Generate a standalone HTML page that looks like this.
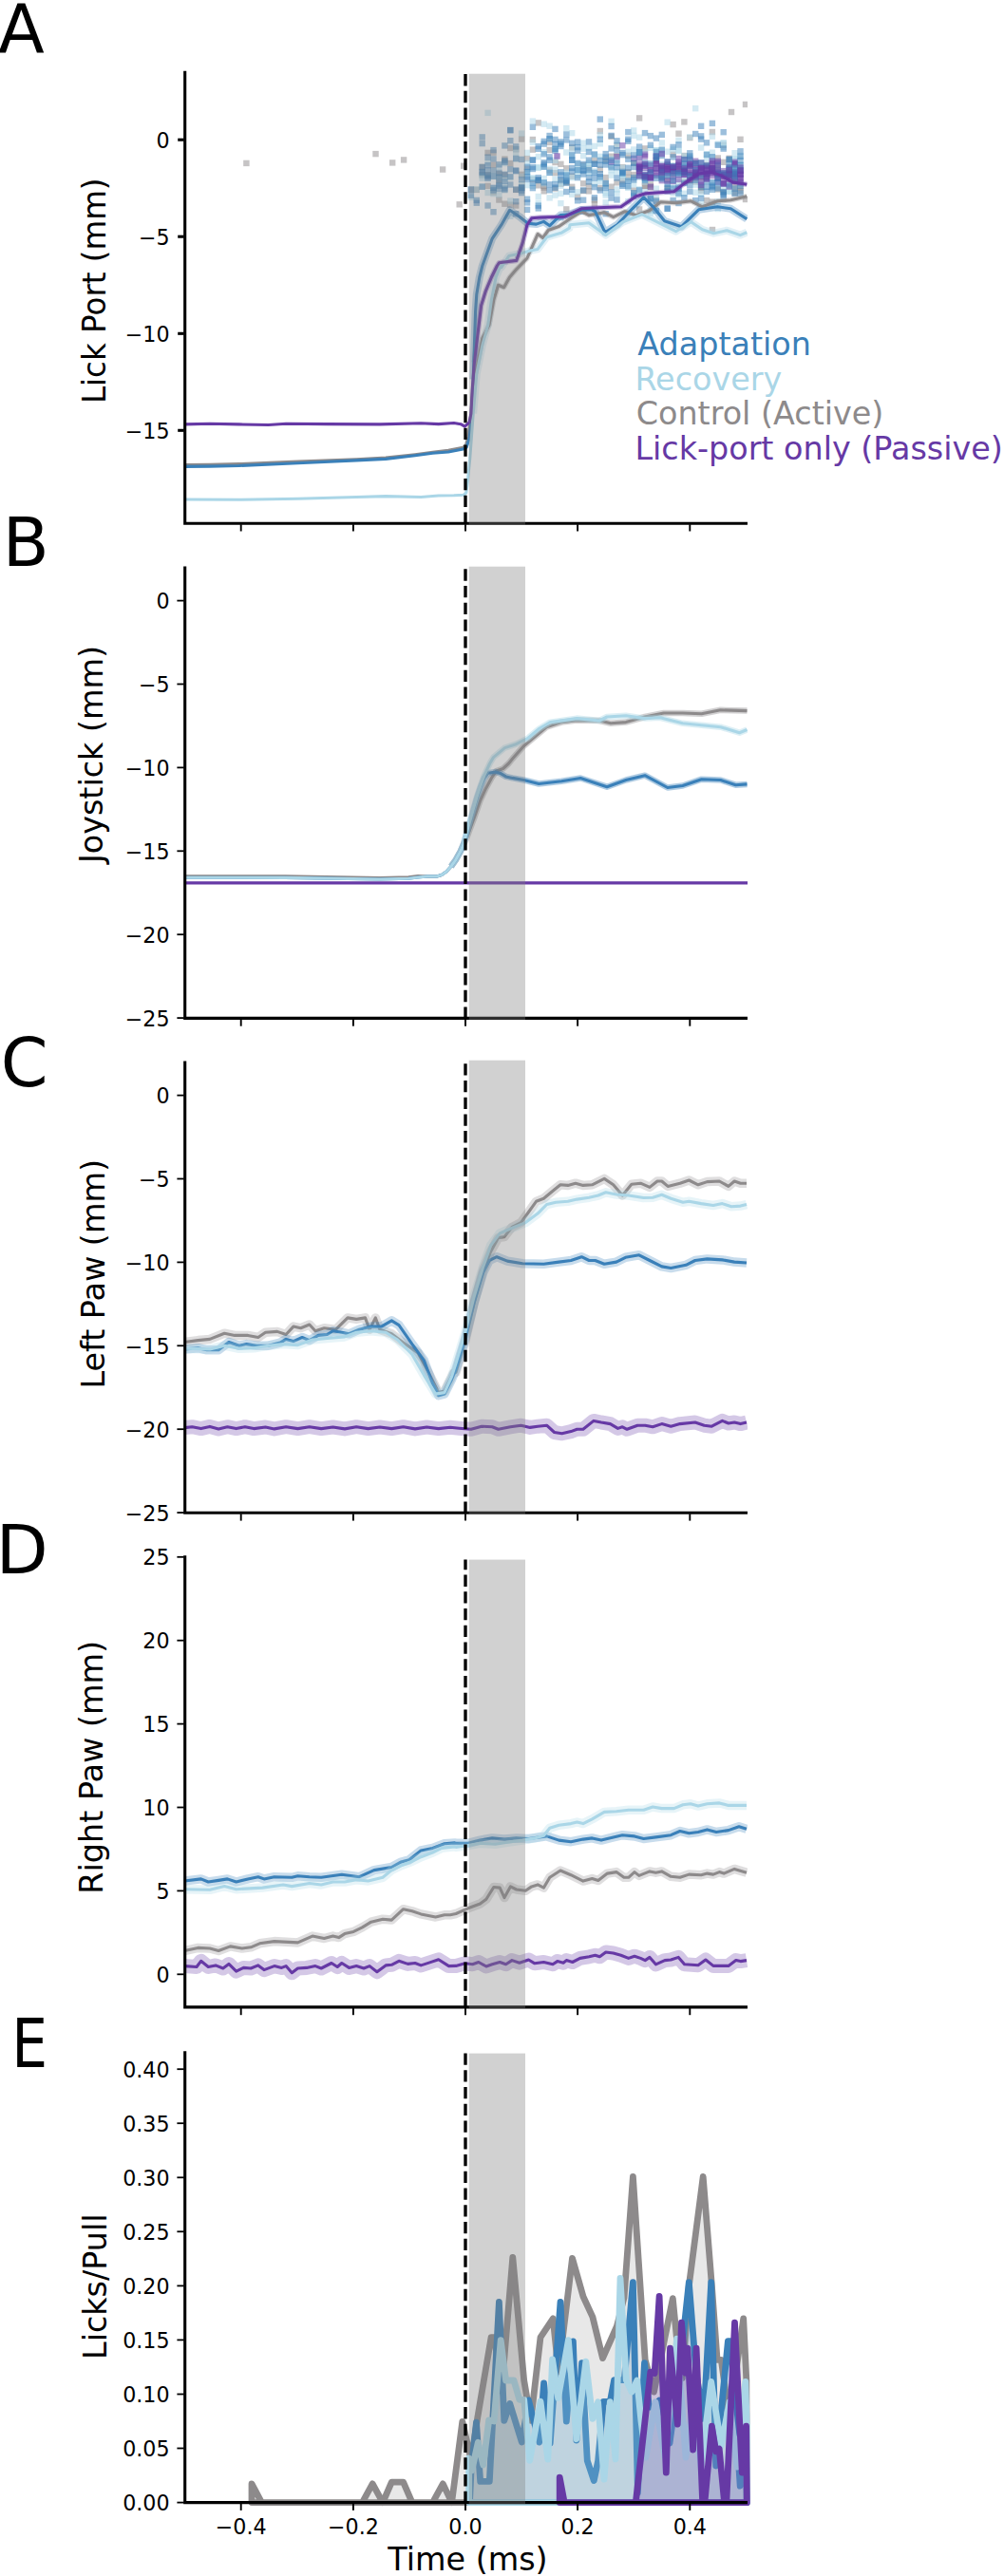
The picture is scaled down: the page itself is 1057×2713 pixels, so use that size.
<!DOCTYPE html>
<html lang="en"><head><meta charset="utf-8"><title>Figure</title>
<style>html,body{margin:0;padding:0;background:#fff}svg{display:block}</style></head>
<body>
<svg width="1057" height="2713" viewBox="0 0 1057 2713" font-family="'DejaVu Sans','Liberation Sans',sans-serif">
<rect width="1057" height="2713" fill="#fff"/>
<g id="panelA">
<clipPath id="clipA"><rect x="194.7" y="74.9" width="592.3" height="476.3"/></clipPath>
<g clip-path="url(#clipA)">
<rect x="256.2" y="168.7" width="6.4" height="6.4" fill="#8d8a8b" fill-opacity="0.50"/><rect x="392.3" y="158.9" width="6.4" height="6.4" fill="#8d8a8b" fill-opacity="0.50"/><rect x="410.0" y="168.2" width="6.4" height="6.4" fill="#8d8a8b" fill-opacity="0.50"/><rect x="421.9" y="165.2" width="6.4" height="6.4" fill="#8d8a8b" fill-opacity="0.50"/><rect x="462.9" y="175.3" width="6.4" height="6.4" fill="#8d8a8b" fill-opacity="0.50"/><rect x="480.5" y="212.1" width="6.4" height="6.4" fill="#8d8a8b" fill-opacity="0.50"/><rect x="485.0" y="171.5" width="6.4" height="6.4" fill="#8d8a8b" fill-opacity="0.50"/><rect x="492.7" y="196.7" width="6.4" height="6.4" fill="#8d8a8b" fill-opacity="0.50"/><rect x="498.6" y="196.7" width="6.4" height="6.4" fill="#8d8a8b" fill-opacity="0.50"/><rect x="504.5" y="172.7" width="6.4" height="6.4" fill="#8d8a8b" fill-opacity="0.50"/><rect x="504.5" y="180.8" width="6.4" height="6.4" fill="#8d8a8b" fill-opacity="0.50"/><rect x="510.4" y="192.7" width="6.4" height="6.4" fill="#8d8a8b" fill-opacity="0.50"/><rect x="510.4" y="181.0" width="6.4" height="6.4" fill="#8d8a8b" fill-opacity="0.50"/><rect x="510.4" y="157.7" width="6.4" height="6.4" fill="#8d8a8b" fill-opacity="0.50"/><rect x="516.3" y="157.5" width="6.4" height="6.4" fill="#8d8a8b" fill-opacity="0.50"/><rect x="516.3" y="170.5" width="6.4" height="6.4" fill="#8d8a8b" fill-opacity="0.50"/><rect x="516.3" y="199.3" width="6.4" height="6.4" fill="#8d8a8b" fill-opacity="0.50"/><rect x="522.2" y="186.7" width="6.4" height="6.4" fill="#8d8a8b" fill-opacity="0.50"/><rect x="522.2" y="180.0" width="6.4" height="6.4" fill="#8d8a8b" fill-opacity="0.50"/><rect x="522.2" y="207.3" width="6.4" height="6.4" fill="#8d8a8b" fill-opacity="0.50"/><rect x="528.2" y="181.2" width="6.4" height="6.4" fill="#8d8a8b" fill-opacity="0.50"/><rect x="528.2" y="211.5" width="6.4" height="6.4" fill="#8d8a8b" fill-opacity="0.50"/><rect x="528.2" y="164.4" width="6.4" height="6.4" fill="#8d8a8b" fill-opacity="0.50"/><rect x="534.1" y="212.5" width="6.4" height="6.4" fill="#8d8a8b" fill-opacity="0.50"/><rect x="534.1" y="168.8" width="6.4" height="6.4" fill="#8d8a8b" fill-opacity="0.50"/><rect x="534.1" y="152.8" width="6.4" height="6.4" fill="#8d8a8b" fill-opacity="0.50"/><rect x="540.0" y="213.3" width="6.4" height="6.4" fill="#8d8a8b" fill-opacity="0.50"/><rect x="540.0" y="154.0" width="6.4" height="6.4" fill="#8d8a8b" fill-opacity="0.50"/><rect x="540.0" y="196.7" width="6.4" height="6.4" fill="#8d8a8b" fill-opacity="0.50"/><rect x="545.9" y="180.6" width="6.4" height="6.4" fill="#8d8a8b" fill-opacity="0.50"/><rect x="545.9" y="143.3" width="6.4" height="6.4" fill="#8d8a8b" fill-opacity="0.50"/><rect x="551.8" y="163.8" width="6.4" height="6.4" fill="#8d8a8b" fill-opacity="0.50"/><rect x="551.8" y="174.4" width="6.4" height="6.4" fill="#8d8a8b" fill-opacity="0.50"/><rect x="557.7" y="185.8" width="6.4" height="6.4" fill="#8d8a8b" fill-opacity="0.50"/><rect x="557.7" y="154.4" width="6.4" height="6.4" fill="#8d8a8b" fill-opacity="0.50"/><rect x="557.7" y="143.8" width="6.4" height="6.4" fill="#8d8a8b" fill-opacity="0.50"/><rect x="563.6" y="192.1" width="6.4" height="6.4" fill="#8d8a8b" fill-opacity="0.50"/><rect x="563.6" y="126.2" width="6.4" height="6.4" fill="#8d8a8b" fill-opacity="0.50"/><rect x="563.6" y="186.6" width="6.4" height="6.4" fill="#8d8a8b" fill-opacity="0.50"/><rect x="569.5" y="194.4" width="6.4" height="6.4" fill="#8d8a8b" fill-opacity="0.50"/><rect x="569.5" y="192.6" width="6.4" height="6.4" fill="#8d8a8b" fill-opacity="0.50"/><rect x="569.5" y="198.1" width="6.4" height="6.4" fill="#8d8a8b" fill-opacity="0.50"/><rect x="575.4" y="146.8" width="6.4" height="6.4" fill="#8d8a8b" fill-opacity="0.50"/><rect x="575.4" y="176.2" width="6.4" height="6.4" fill="#8d8a8b" fill-opacity="0.50"/><rect x="575.4" y="154.7" width="6.4" height="6.4" fill="#8d8a8b" fill-opacity="0.50"/><rect x="581.3" y="178.9" width="6.4" height="6.4" fill="#8d8a8b" fill-opacity="0.50"/><rect x="581.3" y="167.8" width="6.4" height="6.4" fill="#8d8a8b" fill-opacity="0.50"/><rect x="581.3" y="195.3" width="6.4" height="6.4" fill="#8d8a8b" fill-opacity="0.50"/><rect x="587.2" y="190.5" width="6.4" height="6.4" fill="#8d8a8b" fill-opacity="0.50"/><rect x="587.2" y="169.6" width="6.4" height="6.4" fill="#8d8a8b" fill-opacity="0.50"/><rect x="587.2" y="187.6" width="6.4" height="6.4" fill="#8d8a8b" fill-opacity="0.50"/><rect x="593.1" y="174.1" width="6.4" height="6.4" fill="#8d8a8b" fill-opacity="0.50"/><rect x="593.1" y="188.8" width="6.4" height="6.4" fill="#8d8a8b" fill-opacity="0.50"/><rect x="593.1" y="217.2" width="6.4" height="6.4" fill="#8d8a8b" fill-opacity="0.50"/><rect x="599.0" y="152.2" width="6.4" height="6.4" fill="#8d8a8b" fill-opacity="0.50"/><rect x="599.0" y="193.6" width="6.4" height="6.4" fill="#8d8a8b" fill-opacity="0.50"/><rect x="599.0" y="182.5" width="6.4" height="6.4" fill="#8d8a8b" fill-opacity="0.50"/><rect x="604.9" y="204.3" width="6.4" height="6.4" fill="#8d8a8b" fill-opacity="0.50"/><rect x="610.9" y="190.1" width="6.4" height="6.4" fill="#8d8a8b" fill-opacity="0.50"/><rect x="610.9" y="197.8" width="6.4" height="6.4" fill="#8d8a8b" fill-opacity="0.50"/><rect x="610.9" y="170.9" width="6.4" height="6.4" fill="#8d8a8b" fill-opacity="0.50"/><rect x="616.8" y="198.1" width="6.4" height="6.4" fill="#8d8a8b" fill-opacity="0.50"/><rect x="616.8" y="193.0" width="6.4" height="6.4" fill="#8d8a8b" fill-opacity="0.50"/><rect x="616.8" y="174.0" width="6.4" height="6.4" fill="#8d8a8b" fill-opacity="0.50"/><rect x="622.7" y="211.9" width="6.4" height="6.4" fill="#8d8a8b" fill-opacity="0.50"/><rect x="622.7" y="207.3" width="6.4" height="6.4" fill="#8d8a8b" fill-opacity="0.50"/><rect x="622.7" y="165.7" width="6.4" height="6.4" fill="#8d8a8b" fill-opacity="0.50"/><rect x="628.6" y="194.8" width="6.4" height="6.4" fill="#8d8a8b" fill-opacity="0.50"/><rect x="628.6" y="175.4" width="6.4" height="6.4" fill="#8d8a8b" fill-opacity="0.50"/><rect x="628.6" y="134.8" width="6.4" height="6.4" fill="#8d8a8b" fill-opacity="0.50"/><rect x="634.5" y="190.3" width="6.4" height="6.4" fill="#8d8a8b" fill-opacity="0.50"/><rect x="634.5" y="183.8" width="6.4" height="6.4" fill="#8d8a8b" fill-opacity="0.50"/><rect x="634.5" y="165.1" width="6.4" height="6.4" fill="#8d8a8b" fill-opacity="0.50"/><rect x="640.4" y="193.5" width="6.4" height="6.4" fill="#8d8a8b" fill-opacity="0.50"/><rect x="640.4" y="140.6" width="6.4" height="6.4" fill="#8d8a8b" fill-opacity="0.50"/><rect x="640.4" y="161.5" width="6.4" height="6.4" fill="#8d8a8b" fill-opacity="0.50"/><rect x="646.3" y="150.2" width="6.4" height="6.4" fill="#8d8a8b" fill-opacity="0.50"/><rect x="646.3" y="161.1" width="6.4" height="6.4" fill="#8d8a8b" fill-opacity="0.50"/><rect x="646.3" y="189.1" width="6.4" height="6.4" fill="#8d8a8b" fill-opacity="0.50"/><rect x="652.2" y="172.9" width="6.4" height="6.4" fill="#8d8a8b" fill-opacity="0.50"/><rect x="652.2" y="186.9" width="6.4" height="6.4" fill="#8d8a8b" fill-opacity="0.50"/><rect x="658.1" y="160.6" width="6.4" height="6.4" fill="#8d8a8b" fill-opacity="0.50"/><rect x="658.1" y="178.1" width="6.4" height="6.4" fill="#8d8a8b" fill-opacity="0.50"/><rect x="658.1" y="183.7" width="6.4" height="6.4" fill="#8d8a8b" fill-opacity="0.50"/><rect x="664.0" y="180.8" width="6.4" height="6.4" fill="#8d8a8b" fill-opacity="0.50"/><rect x="664.0" y="168.6" width="6.4" height="6.4" fill="#8d8a8b" fill-opacity="0.50"/><rect x="664.0" y="197.4" width="6.4" height="6.4" fill="#8d8a8b" fill-opacity="0.50"/><rect x="669.9" y="217.3" width="6.4" height="6.4" fill="#8d8a8b" fill-opacity="0.50"/><rect x="669.9" y="121.2" width="6.4" height="6.4" fill="#8d8a8b" fill-opacity="0.50"/><rect x="669.9" y="179.0" width="6.4" height="6.4" fill="#8d8a8b" fill-opacity="0.50"/><rect x="675.8" y="192.8" width="6.4" height="6.4" fill="#8d8a8b" fill-opacity="0.50"/><rect x="675.8" y="192.6" width="6.4" height="6.4" fill="#8d8a8b" fill-opacity="0.50"/><rect x="675.8" y="153.2" width="6.4" height="6.4" fill="#8d8a8b" fill-opacity="0.50"/><rect x="681.7" y="194.1" width="6.4" height="6.4" fill="#8d8a8b" fill-opacity="0.50"/><rect x="681.7" y="191.1" width="6.4" height="6.4" fill="#8d8a8b" fill-opacity="0.50"/><rect x="687.7" y="165.2" width="6.4" height="6.4" fill="#8d8a8b" fill-opacity="0.50"/><rect x="687.7" y="207.5" width="6.4" height="6.4" fill="#8d8a8b" fill-opacity="0.50"/><rect x="693.6" y="173.6" width="6.4" height="6.4" fill="#8d8a8b" fill-opacity="0.50"/><rect x="693.6" y="183.5" width="6.4" height="6.4" fill="#8d8a8b" fill-opacity="0.50"/><rect x="693.6" y="173.5" width="6.4" height="6.4" fill="#8d8a8b" fill-opacity="0.50"/><rect x="699.5" y="170.9" width="6.4" height="6.4" fill="#8d8a8b" fill-opacity="0.50"/><rect x="699.5" y="195.4" width="6.4" height="6.4" fill="#8d8a8b" fill-opacity="0.50"/><rect x="699.5" y="185.6" width="6.4" height="6.4" fill="#8d8a8b" fill-opacity="0.50"/><rect x="705.4" y="159.5" width="6.4" height="6.4" fill="#8d8a8b" fill-opacity="0.50"/><rect x="705.4" y="127.9" width="6.4" height="6.4" fill="#8d8a8b" fill-opacity="0.50"/><rect x="705.4" y="180.0" width="6.4" height="6.4" fill="#8d8a8b" fill-opacity="0.50"/><rect x="711.3" y="137.5" width="6.4" height="6.4" fill="#8d8a8b" fill-opacity="0.50"/><rect x="711.3" y="176.9" width="6.4" height="6.4" fill="#8d8a8b" fill-opacity="0.50"/><rect x="717.2" y="125.2" width="6.4" height="6.4" fill="#8d8a8b" fill-opacity="0.50"/><rect x="717.2" y="188.2" width="6.4" height="6.4" fill="#8d8a8b" fill-opacity="0.50"/><rect x="717.2" y="160.8" width="6.4" height="6.4" fill="#8d8a8b" fill-opacity="0.50"/><rect x="723.1" y="141.9" width="6.4" height="6.4" fill="#8d8a8b" fill-opacity="0.50"/><rect x="723.1" y="186.9" width="6.4" height="6.4" fill="#8d8a8b" fill-opacity="0.50"/><rect x="723.1" y="186.2" width="6.4" height="6.4" fill="#8d8a8b" fill-opacity="0.50"/><rect x="729.0" y="168.7" width="6.4" height="6.4" fill="#8d8a8b" fill-opacity="0.50"/><rect x="729.0" y="188.3" width="6.4" height="6.4" fill="#8d8a8b" fill-opacity="0.50"/><rect x="729.0" y="181.2" width="6.4" height="6.4" fill="#8d8a8b" fill-opacity="0.50"/><rect x="734.9" y="197.5" width="6.4" height="6.4" fill="#8d8a8b" fill-opacity="0.50"/><rect x="734.9" y="184.2" width="6.4" height="6.4" fill="#8d8a8b" fill-opacity="0.50"/><rect x="734.9" y="194.1" width="6.4" height="6.4" fill="#8d8a8b" fill-opacity="0.50"/><rect x="740.8" y="179.8" width="6.4" height="6.4" fill="#8d8a8b" fill-opacity="0.50"/><rect x="740.8" y="207.8" width="6.4" height="6.4" fill="#8d8a8b" fill-opacity="0.50"/><rect x="740.8" y="170.8" width="6.4" height="6.4" fill="#8d8a8b" fill-opacity="0.50"/><rect x="746.7" y="174.4" width="6.4" height="6.4" fill="#8d8a8b" fill-opacity="0.50"/><rect x="746.7" y="209.4" width="6.4" height="6.4" fill="#8d8a8b" fill-opacity="0.50"/><rect x="746.7" y="135.8" width="6.4" height="6.4" fill="#8d8a8b" fill-opacity="0.50"/><rect x="752.6" y="196.2" width="6.4" height="6.4" fill="#8d8a8b" fill-opacity="0.50"/><rect x="752.6" y="172.9" width="6.4" height="6.4" fill="#8d8a8b" fill-opacity="0.50"/><rect x="752.6" y="163.3" width="6.4" height="6.4" fill="#8d8a8b" fill-opacity="0.50"/><rect x="758.5" y="149.6" width="6.4" height="6.4" fill="#8d8a8b" fill-opacity="0.50"/><rect x="758.5" y="198.7" width="6.4" height="6.4" fill="#8d8a8b" fill-opacity="0.50"/><rect x="758.5" y="167.6" width="6.4" height="6.4" fill="#8d8a8b" fill-opacity="0.50"/><rect x="764.5" y="174.3" width="6.4" height="6.4" fill="#8d8a8b" fill-opacity="0.50"/><rect x="764.5" y="181.3" width="6.4" height="6.4" fill="#8d8a8b" fill-opacity="0.50"/><rect x="764.5" y="163.6" width="6.4" height="6.4" fill="#8d8a8b" fill-opacity="0.50"/><rect x="770.4" y="187.2" width="6.4" height="6.4" fill="#8d8a8b" fill-opacity="0.50"/><rect x="770.4" y="199.8" width="6.4" height="6.4" fill="#8d8a8b" fill-opacity="0.50"/><rect x="770.4" y="193.8" width="6.4" height="6.4" fill="#8d8a8b" fill-opacity="0.50"/><rect x="776.3" y="194.4" width="6.4" height="6.4" fill="#8d8a8b" fill-opacity="0.50"/><rect x="776.3" y="143.6" width="6.4" height="6.4" fill="#8d8a8b" fill-opacity="0.50"/><rect x="776.3" y="198.0" width="6.4" height="6.4" fill="#8d8a8b" fill-opacity="0.50"/><rect x="492.7" y="204.7" width="6.4" height="6.4" fill="#aad6e7" fill-opacity="0.50"/><rect x="498.6" y="196.3" width="6.4" height="6.4" fill="#aad6e7" fill-opacity="0.50"/><rect x="504.5" y="181.9" width="6.4" height="6.4" fill="#aad6e7" fill-opacity="0.50"/><rect x="504.5" y="184.5" width="6.4" height="6.4" fill="#aad6e7" fill-opacity="0.50"/><rect x="504.5" y="193.3" width="6.4" height="6.4" fill="#aad6e7" fill-opacity="0.50"/><rect x="510.4" y="115.7" width="6.4" height="6.4" fill="#aad6e7" fill-opacity="0.50"/><rect x="510.4" y="168.2" width="6.4" height="6.4" fill="#aad6e7" fill-opacity="0.50"/><rect x="510.4" y="199.8" width="6.4" height="6.4" fill="#aad6e7" fill-opacity="0.50"/><rect x="516.3" y="200.9" width="6.4" height="6.4" fill="#aad6e7" fill-opacity="0.50"/><rect x="516.3" y="182.7" width="6.4" height="6.4" fill="#aad6e7" fill-opacity="0.50"/><rect x="516.3" y="195.0" width="6.4" height="6.4" fill="#aad6e7" fill-opacity="0.50"/><rect x="522.2" y="202.2" width="6.4" height="6.4" fill="#aad6e7" fill-opacity="0.50"/><rect x="522.2" y="172.7" width="6.4" height="6.4" fill="#aad6e7" fill-opacity="0.50"/><rect x="522.2" y="183.8" width="6.4" height="6.4" fill="#aad6e7" fill-opacity="0.50"/><rect x="528.2" y="168.8" width="6.4" height="6.4" fill="#aad6e7" fill-opacity="0.50"/><rect x="528.2" y="192.5" width="6.4" height="6.4" fill="#aad6e7" fill-opacity="0.50"/><rect x="528.2" y="185.1" width="6.4" height="6.4" fill="#aad6e7" fill-opacity="0.50"/><rect x="534.1" y="224.6" width="6.4" height="6.4" fill="#aad6e7" fill-opacity="0.50"/><rect x="534.1" y="184.0" width="6.4" height="6.4" fill="#aad6e7" fill-opacity="0.50"/><rect x="534.1" y="208.4" width="6.4" height="6.4" fill="#aad6e7" fill-opacity="0.50"/><rect x="540.0" y="158.1" width="6.4" height="6.4" fill="#aad6e7" fill-opacity="0.50"/><rect x="540.0" y="153.8" width="6.4" height="6.4" fill="#aad6e7" fill-opacity="0.50"/><rect x="540.0" y="164.5" width="6.4" height="6.4" fill="#aad6e7" fill-opacity="0.50"/><rect x="545.9" y="182.6" width="6.4" height="6.4" fill="#aad6e7" fill-opacity="0.50"/><rect x="545.9" y="191.0" width="6.4" height="6.4" fill="#aad6e7" fill-opacity="0.50"/><rect x="545.9" y="137.4" width="6.4" height="6.4" fill="#aad6e7" fill-opacity="0.50"/><rect x="551.8" y="191.9" width="6.4" height="6.4" fill="#aad6e7" fill-opacity="0.50"/><rect x="551.8" y="157.7" width="6.4" height="6.4" fill="#aad6e7" fill-opacity="0.50"/><rect x="551.8" y="177.5" width="6.4" height="6.4" fill="#aad6e7" fill-opacity="0.50"/><rect x="551.8" y="168.5" width="6.4" height="6.4" fill="#aad6e7" fill-opacity="0.50"/><rect x="551.8" y="179.3" width="6.4" height="6.4" fill="#aad6e7" fill-opacity="0.50"/><rect x="557.7" y="184.6" width="6.4" height="6.4" fill="#aad6e7" fill-opacity="0.50"/><rect x="557.7" y="124.4" width="6.4" height="6.4" fill="#aad6e7" fill-opacity="0.50"/><rect x="557.7" y="184.4" width="6.4" height="6.4" fill="#aad6e7" fill-opacity="0.50"/><rect x="557.7" y="192.6" width="6.4" height="6.4" fill="#aad6e7" fill-opacity="0.50"/><rect x="557.7" y="146.7" width="6.4" height="6.4" fill="#aad6e7" fill-opacity="0.50"/><rect x="563.6" y="210.6" width="6.4" height="6.4" fill="#aad6e7" fill-opacity="0.50"/><rect x="563.6" y="173.7" width="6.4" height="6.4" fill="#aad6e7" fill-opacity="0.50"/><rect x="563.6" y="161.9" width="6.4" height="6.4" fill="#aad6e7" fill-opacity="0.50"/><rect x="563.6" y="203.8" width="6.4" height="6.4" fill="#aad6e7" fill-opacity="0.50"/><rect x="563.6" y="172.9" width="6.4" height="6.4" fill="#aad6e7" fill-opacity="0.50"/><rect x="569.5" y="157.1" width="6.4" height="6.4" fill="#aad6e7" fill-opacity="0.50"/><rect x="569.5" y="127.5" width="6.4" height="6.4" fill="#aad6e7" fill-opacity="0.50"/><rect x="569.5" y="190.1" width="6.4" height="6.4" fill="#aad6e7" fill-opacity="0.50"/><rect x="569.5" y="184.8" width="6.4" height="6.4" fill="#aad6e7" fill-opacity="0.50"/><rect x="569.5" y="172.6" width="6.4" height="6.4" fill="#aad6e7" fill-opacity="0.50"/><rect x="575.4" y="174.6" width="6.4" height="6.4" fill="#aad6e7" fill-opacity="0.50"/><rect x="575.4" y="143.1" width="6.4" height="6.4" fill="#aad6e7" fill-opacity="0.50"/><rect x="575.4" y="178.7" width="6.4" height="6.4" fill="#aad6e7" fill-opacity="0.50"/><rect x="575.4" y="129.5" width="6.4" height="6.4" fill="#aad6e7" fill-opacity="0.50"/><rect x="575.4" y="205.2" width="6.4" height="6.4" fill="#aad6e7" fill-opacity="0.50"/><rect x="581.3" y="175.5" width="6.4" height="6.4" fill="#aad6e7" fill-opacity="0.50"/><rect x="581.3" y="165.6" width="6.4" height="6.4" fill="#aad6e7" fill-opacity="0.50"/><rect x="581.3" y="185.5" width="6.4" height="6.4" fill="#aad6e7" fill-opacity="0.50"/><rect x="581.3" y="202.4" width="6.4" height="6.4" fill="#aad6e7" fill-opacity="0.50"/><rect x="581.3" y="153.7" width="6.4" height="6.4" fill="#aad6e7" fill-opacity="0.50"/><rect x="587.2" y="188.9" width="6.4" height="6.4" fill="#aad6e7" fill-opacity="0.50"/><rect x="587.2" y="210.9" width="6.4" height="6.4" fill="#aad6e7" fill-opacity="0.50"/><rect x="587.2" y="200.6" width="6.4" height="6.4" fill="#aad6e7" fill-opacity="0.50"/><rect x="587.2" y="192.5" width="6.4" height="6.4" fill="#aad6e7" fill-opacity="0.50"/><rect x="593.1" y="183.3" width="6.4" height="6.4" fill="#aad6e7" fill-opacity="0.50"/><rect x="593.1" y="181.2" width="6.4" height="6.4" fill="#aad6e7" fill-opacity="0.50"/><rect x="593.1" y="178.6" width="6.4" height="6.4" fill="#aad6e7" fill-opacity="0.50"/><rect x="593.1" y="157.3" width="6.4" height="6.4" fill="#aad6e7" fill-opacity="0.50"/><rect x="593.1" y="131.9" width="6.4" height="6.4" fill="#aad6e7" fill-opacity="0.50"/><rect x="599.0" y="160.8" width="6.4" height="6.4" fill="#aad6e7" fill-opacity="0.50"/><rect x="599.0" y="183.9" width="6.4" height="6.4" fill="#aad6e7" fill-opacity="0.50"/><rect x="599.0" y="137.0" width="6.4" height="6.4" fill="#aad6e7" fill-opacity="0.50"/><rect x="599.0" y="201.5" width="6.4" height="6.4" fill="#aad6e7" fill-opacity="0.50"/><rect x="599.0" y="153.6" width="6.4" height="6.4" fill="#aad6e7" fill-opacity="0.50"/><rect x="604.9" y="181.5" width="6.4" height="6.4" fill="#aad6e7" fill-opacity="0.50"/><rect x="604.9" y="176.2" width="6.4" height="6.4" fill="#aad6e7" fill-opacity="0.50"/><rect x="604.9" y="175.9" width="6.4" height="6.4" fill="#aad6e7" fill-opacity="0.50"/><rect x="604.9" y="199.1" width="6.4" height="6.4" fill="#aad6e7" fill-opacity="0.50"/><rect x="604.9" y="169.7" width="6.4" height="6.4" fill="#aad6e7" fill-opacity="0.50"/><rect x="610.9" y="171.9" width="6.4" height="6.4" fill="#aad6e7" fill-opacity="0.50"/><rect x="610.9" y="147.5" width="6.4" height="6.4" fill="#aad6e7" fill-opacity="0.50"/><rect x="610.9" y="171.8" width="6.4" height="6.4" fill="#aad6e7" fill-opacity="0.50"/><rect x="610.9" y="161.0" width="6.4" height="6.4" fill="#aad6e7" fill-opacity="0.50"/><rect x="610.9" y="153.5" width="6.4" height="6.4" fill="#aad6e7" fill-opacity="0.50"/><rect x="616.8" y="172.6" width="6.4" height="6.4" fill="#aad6e7" fill-opacity="0.50"/><rect x="616.8" y="152.4" width="6.4" height="6.4" fill="#aad6e7" fill-opacity="0.50"/><rect x="616.8" y="168.1" width="6.4" height="6.4" fill="#aad6e7" fill-opacity="0.50"/><rect x="616.8" y="170.2" width="6.4" height="6.4" fill="#aad6e7" fill-opacity="0.50"/><rect x="616.8" y="178.9" width="6.4" height="6.4" fill="#aad6e7" fill-opacity="0.50"/><rect x="622.7" y="190.3" width="6.4" height="6.4" fill="#aad6e7" fill-opacity="0.50"/><rect x="622.7" y="150.7" width="6.4" height="6.4" fill="#aad6e7" fill-opacity="0.50"/><rect x="622.7" y="159.8" width="6.4" height="6.4" fill="#aad6e7" fill-opacity="0.50"/><rect x="622.7" y="177.2" width="6.4" height="6.4" fill="#aad6e7" fill-opacity="0.50"/><rect x="628.6" y="188.0" width="6.4" height="6.4" fill="#aad6e7" fill-opacity="0.50"/><rect x="628.6" y="148.1" width="6.4" height="6.4" fill="#aad6e7" fill-opacity="0.50"/><rect x="628.6" y="161.7" width="6.4" height="6.4" fill="#aad6e7" fill-opacity="0.50"/><rect x="628.6" y="184.6" width="6.4" height="6.4" fill="#aad6e7" fill-opacity="0.50"/><rect x="628.6" y="139.1" width="6.4" height="6.4" fill="#aad6e7" fill-opacity="0.50"/><rect x="634.5" y="210.1" width="6.4" height="6.4" fill="#aad6e7" fill-opacity="0.50"/><rect x="634.5" y="189.7" width="6.4" height="6.4" fill="#aad6e7" fill-opacity="0.50"/><rect x="634.5" y="193.0" width="6.4" height="6.4" fill="#aad6e7" fill-opacity="0.50"/><rect x="634.5" y="202.4" width="6.4" height="6.4" fill="#aad6e7" fill-opacity="0.50"/><rect x="634.5" y="200.1" width="6.4" height="6.4" fill="#aad6e7" fill-opacity="0.50"/><rect x="640.4" y="164.1" width="6.4" height="6.4" fill="#aad6e7" fill-opacity="0.50"/><rect x="640.4" y="171.5" width="6.4" height="6.4" fill="#aad6e7" fill-opacity="0.50"/><rect x="640.4" y="175.9" width="6.4" height="6.4" fill="#aad6e7" fill-opacity="0.50"/><rect x="640.4" y="181.4" width="6.4" height="6.4" fill="#aad6e7" fill-opacity="0.50"/><rect x="640.4" y="124.6" width="6.4" height="6.4" fill="#aad6e7" fill-opacity="0.50"/><rect x="646.3" y="149.5" width="6.4" height="6.4" fill="#aad6e7" fill-opacity="0.50"/><rect x="646.3" y="177.9" width="6.4" height="6.4" fill="#aad6e7" fill-opacity="0.50"/><rect x="646.3" y="196.3" width="6.4" height="6.4" fill="#aad6e7" fill-opacity="0.50"/><rect x="646.3" y="165.3" width="6.4" height="6.4" fill="#aad6e7" fill-opacity="0.50"/><rect x="646.3" y="200.9" width="6.4" height="6.4" fill="#aad6e7" fill-opacity="0.50"/><rect x="652.2" y="180.2" width="6.4" height="6.4" fill="#aad6e7" fill-opacity="0.50"/><rect x="652.2" y="183.9" width="6.4" height="6.4" fill="#aad6e7" fill-opacity="0.50"/><rect x="652.2" y="181.8" width="6.4" height="6.4" fill="#aad6e7" fill-opacity="0.50"/><rect x="652.2" y="173.6" width="6.4" height="6.4" fill="#aad6e7" fill-opacity="0.50"/><rect x="652.2" y="180.1" width="6.4" height="6.4" fill="#aad6e7" fill-opacity="0.50"/><rect x="658.1" y="156.6" width="6.4" height="6.4" fill="#aad6e7" fill-opacity="0.50"/><rect x="658.1" y="194.6" width="6.4" height="6.4" fill="#aad6e7" fill-opacity="0.50"/><rect x="658.1" y="208.9" width="6.4" height="6.4" fill="#aad6e7" fill-opacity="0.50"/><rect x="658.1" y="186.9" width="6.4" height="6.4" fill="#aad6e7" fill-opacity="0.50"/><rect x="664.0" y="191.2" width="6.4" height="6.4" fill="#aad6e7" fill-opacity="0.50"/><rect x="664.0" y="139.7" width="6.4" height="6.4" fill="#aad6e7" fill-opacity="0.50"/><rect x="664.0" y="154.3" width="6.4" height="6.4" fill="#aad6e7" fill-opacity="0.50"/><rect x="664.0" y="134.3" width="6.4" height="6.4" fill="#aad6e7" fill-opacity="0.50"/><rect x="664.0" y="201.2" width="6.4" height="6.4" fill="#aad6e7" fill-opacity="0.50"/><rect x="669.9" y="141.5" width="6.4" height="6.4" fill="#aad6e7" fill-opacity="0.50"/><rect x="669.9" y="181.4" width="6.4" height="6.4" fill="#aad6e7" fill-opacity="0.50"/><rect x="669.9" y="162.5" width="6.4" height="6.4" fill="#aad6e7" fill-opacity="0.50"/><rect x="669.9" y="157.3" width="6.4" height="6.4" fill="#aad6e7" fill-opacity="0.50"/><rect x="669.9" y="196.1" width="6.4" height="6.4" fill="#aad6e7" fill-opacity="0.50"/><rect x="675.8" y="188.5" width="6.4" height="6.4" fill="#aad6e7" fill-opacity="0.50"/><rect x="675.8" y="186.2" width="6.4" height="6.4" fill="#aad6e7" fill-opacity="0.50"/><rect x="675.8" y="157.2" width="6.4" height="6.4" fill="#aad6e7" fill-opacity="0.50"/><rect x="675.8" y="199.0" width="6.4" height="6.4" fill="#aad6e7" fill-opacity="0.50"/><rect x="675.8" y="179.0" width="6.4" height="6.4" fill="#aad6e7" fill-opacity="0.50"/><rect x="681.7" y="185.0" width="6.4" height="6.4" fill="#aad6e7" fill-opacity="0.50"/><rect x="681.7" y="152.6" width="6.4" height="6.4" fill="#aad6e7" fill-opacity="0.50"/><rect x="681.7" y="221.3" width="6.4" height="6.4" fill="#aad6e7" fill-opacity="0.50"/><rect x="681.7" y="219.0" width="6.4" height="6.4" fill="#aad6e7" fill-opacity="0.50"/><rect x="681.7" y="218.5" width="6.4" height="6.4" fill="#aad6e7" fill-opacity="0.50"/><rect x="687.7" y="155.1" width="6.4" height="6.4" fill="#aad6e7" fill-opacity="0.50"/><rect x="687.7" y="155.2" width="6.4" height="6.4" fill="#aad6e7" fill-opacity="0.50"/><rect x="687.7" y="195.5" width="6.4" height="6.4" fill="#aad6e7" fill-opacity="0.50"/><rect x="687.7" y="174.4" width="6.4" height="6.4" fill="#aad6e7" fill-opacity="0.50"/><rect x="687.7" y="205.2" width="6.4" height="6.4" fill="#aad6e7" fill-opacity="0.50"/><rect x="693.6" y="147.3" width="6.4" height="6.4" fill="#aad6e7" fill-opacity="0.50"/><rect x="693.6" y="169.8" width="6.4" height="6.4" fill="#aad6e7" fill-opacity="0.50"/><rect x="693.6" y="172.2" width="6.4" height="6.4" fill="#aad6e7" fill-opacity="0.50"/><rect x="693.6" y="154.7" width="6.4" height="6.4" fill="#aad6e7" fill-opacity="0.50"/><rect x="693.6" y="176.4" width="6.4" height="6.4" fill="#aad6e7" fill-opacity="0.50"/><rect x="699.5" y="156.5" width="6.4" height="6.4" fill="#aad6e7" fill-opacity="0.50"/><rect x="699.5" y="182.1" width="6.4" height="6.4" fill="#aad6e7" fill-opacity="0.50"/><rect x="699.5" y="178.4" width="6.4" height="6.4" fill="#aad6e7" fill-opacity="0.50"/><rect x="699.5" y="125.5" width="6.4" height="6.4" fill="#aad6e7" fill-opacity="0.50"/><rect x="699.5" y="177.3" width="6.4" height="6.4" fill="#aad6e7" fill-opacity="0.50"/><rect x="705.4" y="195.4" width="6.4" height="6.4" fill="#aad6e7" fill-opacity="0.50"/><rect x="705.4" y="183.6" width="6.4" height="6.4" fill="#aad6e7" fill-opacity="0.50"/><rect x="705.4" y="191.4" width="6.4" height="6.4" fill="#aad6e7" fill-opacity="0.50"/><rect x="705.4" y="154.2" width="6.4" height="6.4" fill="#aad6e7" fill-opacity="0.50"/><rect x="705.4" y="200.1" width="6.4" height="6.4" fill="#aad6e7" fill-opacity="0.50"/><rect x="711.3" y="155.1" width="6.4" height="6.4" fill="#aad6e7" fill-opacity="0.50"/><rect x="711.3" y="188.8" width="6.4" height="6.4" fill="#aad6e7" fill-opacity="0.50"/><rect x="711.3" y="202.2" width="6.4" height="6.4" fill="#aad6e7" fill-opacity="0.50"/><rect x="711.3" y="155.8" width="6.4" height="6.4" fill="#aad6e7" fill-opacity="0.50"/><rect x="711.3" y="144.6" width="6.4" height="6.4" fill="#aad6e7" fill-opacity="0.50"/><rect x="717.2" y="183.0" width="6.4" height="6.4" fill="#aad6e7" fill-opacity="0.50"/><rect x="717.2" y="200.6" width="6.4" height="6.4" fill="#aad6e7" fill-opacity="0.50"/><rect x="717.2" y="161.1" width="6.4" height="6.4" fill="#aad6e7" fill-opacity="0.50"/><rect x="717.2" y="177.7" width="6.4" height="6.4" fill="#aad6e7" fill-opacity="0.50"/><rect x="717.2" y="189.1" width="6.4" height="6.4" fill="#aad6e7" fill-opacity="0.50"/><rect x="723.1" y="169.1" width="6.4" height="6.4" fill="#aad6e7" fill-opacity="0.50"/><rect x="723.1" y="169.0" width="6.4" height="6.4" fill="#aad6e7" fill-opacity="0.50"/><rect x="723.1" y="180.8" width="6.4" height="6.4" fill="#aad6e7" fill-opacity="0.50"/><rect x="723.1" y="179.8" width="6.4" height="6.4" fill="#aad6e7" fill-opacity="0.50"/><rect x="723.1" y="141.1" width="6.4" height="6.4" fill="#aad6e7" fill-opacity="0.50"/><rect x="729.0" y="191.4" width="6.4" height="6.4" fill="#aad6e7" fill-opacity="0.50"/><rect x="729.0" y="111.0" width="6.4" height="6.4" fill="#aad6e7" fill-opacity="0.50"/><rect x="729.0" y="199.5" width="6.4" height="6.4" fill="#aad6e7" fill-opacity="0.50"/><rect x="729.0" y="170.5" width="6.4" height="6.4" fill="#aad6e7" fill-opacity="0.50"/><rect x="729.0" y="182.5" width="6.4" height="6.4" fill="#aad6e7" fill-opacity="0.50"/><rect x="734.9" y="200.8" width="6.4" height="6.4" fill="#aad6e7" fill-opacity="0.50"/><rect x="734.9" y="152.3" width="6.4" height="6.4" fill="#aad6e7" fill-opacity="0.50"/><rect x="734.9" y="189.5" width="6.4" height="6.4" fill="#aad6e7" fill-opacity="0.50"/><rect x="734.9" y="174.5" width="6.4" height="6.4" fill="#aad6e7" fill-opacity="0.50"/><rect x="734.9" y="212.1" width="6.4" height="6.4" fill="#aad6e7" fill-opacity="0.50"/><rect x="740.8" y="181.6" width="6.4" height="6.4" fill="#aad6e7" fill-opacity="0.50"/><rect x="740.8" y="159.0" width="6.4" height="6.4" fill="#aad6e7" fill-opacity="0.50"/><rect x="740.8" y="177.1" width="6.4" height="6.4" fill="#aad6e7" fill-opacity="0.50"/><rect x="740.8" y="163.7" width="6.4" height="6.4" fill="#aad6e7" fill-opacity="0.50"/><rect x="740.8" y="178.9" width="6.4" height="6.4" fill="#aad6e7" fill-opacity="0.50"/><rect x="746.7" y="140.5" width="6.4" height="6.4" fill="#aad6e7" fill-opacity="0.50"/><rect x="746.7" y="212.2" width="6.4" height="6.4" fill="#aad6e7" fill-opacity="0.50"/><rect x="746.7" y="163.4" width="6.4" height="6.4" fill="#aad6e7" fill-opacity="0.50"/><rect x="746.7" y="157.5" width="6.4" height="6.4" fill="#aad6e7" fill-opacity="0.50"/><rect x="746.7" y="188.9" width="6.4" height="6.4" fill="#aad6e7" fill-opacity="0.50"/><rect x="752.6" y="209.0" width="6.4" height="6.4" fill="#aad6e7" fill-opacity="0.50"/><rect x="752.6" y="216.8" width="6.4" height="6.4" fill="#aad6e7" fill-opacity="0.50"/><rect x="752.6" y="167.6" width="6.4" height="6.4" fill="#aad6e7" fill-opacity="0.50"/><rect x="752.6" y="148.5" width="6.4" height="6.4" fill="#aad6e7" fill-opacity="0.50"/><rect x="752.6" y="178.5" width="6.4" height="6.4" fill="#aad6e7" fill-opacity="0.50"/><rect x="758.5" y="194.4" width="6.4" height="6.4" fill="#aad6e7" fill-opacity="0.50"/><rect x="758.5" y="190.3" width="6.4" height="6.4" fill="#aad6e7" fill-opacity="0.50"/><rect x="758.5" y="151.7" width="6.4" height="6.4" fill="#aad6e7" fill-opacity="0.50"/><rect x="758.5" y="147.1" width="6.4" height="6.4" fill="#aad6e7" fill-opacity="0.50"/><rect x="758.5" y="147.8" width="6.4" height="6.4" fill="#aad6e7" fill-opacity="0.50"/><rect x="764.5" y="190.3" width="6.4" height="6.4" fill="#aad6e7" fill-opacity="0.50"/><rect x="764.5" y="172.2" width="6.4" height="6.4" fill="#aad6e7" fill-opacity="0.50"/><rect x="764.5" y="198.2" width="6.4" height="6.4" fill="#aad6e7" fill-opacity="0.50"/><rect x="764.5" y="198.5" width="6.4" height="6.4" fill="#aad6e7" fill-opacity="0.50"/><rect x="764.5" y="174.2" width="6.4" height="6.4" fill="#aad6e7" fill-opacity="0.50"/><rect x="770.4" y="158.0" width="6.4" height="6.4" fill="#aad6e7" fill-opacity="0.50"/><rect x="770.4" y="170.8" width="6.4" height="6.4" fill="#aad6e7" fill-opacity="0.50"/><rect x="770.4" y="181.4" width="6.4" height="6.4" fill="#aad6e7" fill-opacity="0.50"/><rect x="770.4" y="164.1" width="6.4" height="6.4" fill="#aad6e7" fill-opacity="0.50"/><rect x="770.4" y="164.4" width="6.4" height="6.4" fill="#aad6e7" fill-opacity="0.50"/><rect x="776.3" y="170.0" width="6.4" height="6.4" fill="#aad6e7" fill-opacity="0.50"/><rect x="776.3" y="180.8" width="6.4" height="6.4" fill="#aad6e7" fill-opacity="0.50"/><rect x="776.3" y="174.2" width="6.4" height="6.4" fill="#aad6e7" fill-opacity="0.50"/><rect x="776.3" y="160.7" width="6.4" height="6.4" fill="#aad6e7" fill-opacity="0.50"/><rect x="776.3" y="190.4" width="6.4" height="6.4" fill="#aad6e7" fill-opacity="0.50"/><rect x="687.7" y="161.4" width="6.4" height="6.4" fill="#6639a5" fill-opacity="0.50"/><rect x="675.8" y="181.1" width="6.4" height="6.4" fill="#6639a5" fill-opacity="0.50"/><rect x="764.5" y="182.4" width="6.4" height="6.4" fill="#6639a5" fill-opacity="0.50"/><rect x="752.6" y="188.5" width="6.4" height="6.4" fill="#6639a5" fill-opacity="0.50"/><rect x="711.3" y="170.3" width="6.4" height="6.4" fill="#6639a5" fill-opacity="0.50"/><rect x="705.4" y="173.7" width="6.4" height="6.4" fill="#6639a5" fill-opacity="0.50"/><rect x="699.5" y="172.2" width="6.4" height="6.4" fill="#6639a5" fill-opacity="0.50"/><rect x="693.6" y="180.8" width="6.4" height="6.4" fill="#6639a5" fill-opacity="0.50"/><rect x="699.5" y="172.5" width="6.4" height="6.4" fill="#6639a5" fill-opacity="0.50"/><rect x="758.5" y="190.5" width="6.4" height="6.4" fill="#6639a5" fill-opacity="0.50"/><rect x="752.6" y="180.8" width="6.4" height="6.4" fill="#6639a5" fill-opacity="0.50"/><rect x="723.1" y="178.9" width="6.4" height="6.4" fill="#6639a5" fill-opacity="0.50"/><rect x="758.5" y="190.0" width="6.4" height="6.4" fill="#6639a5" fill-opacity="0.50"/><rect x="711.3" y="170.3" width="6.4" height="6.4" fill="#6639a5" fill-opacity="0.50"/><rect x="687.7" y="166.8" width="6.4" height="6.4" fill="#6639a5" fill-opacity="0.50"/><rect x="758.5" y="179.3" width="6.4" height="6.4" fill="#6639a5" fill-opacity="0.50"/><rect x="664.0" y="163.7" width="6.4" height="6.4" fill="#6639a5" fill-opacity="0.50"/><rect x="717.2" y="176.6" width="6.4" height="6.4" fill="#6639a5" fill-opacity="0.50"/><rect x="723.1" y="172.5" width="6.4" height="6.4" fill="#6639a5" fill-opacity="0.50"/><rect x="699.5" y="179.1" width="6.4" height="6.4" fill="#6639a5" fill-opacity="0.50"/><rect x="723.1" y="165.0" width="6.4" height="6.4" fill="#6639a5" fill-opacity="0.50"/><rect x="711.3" y="163.8" width="6.4" height="6.4" fill="#6639a5" fill-opacity="0.50"/><rect x="717.2" y="165.1" width="6.4" height="6.4" fill="#6639a5" fill-opacity="0.50"/><rect x="770.4" y="167.5" width="6.4" height="6.4" fill="#6639a5" fill-opacity="0.50"/><rect x="764.5" y="179.6" width="6.4" height="6.4" fill="#6639a5" fill-opacity="0.50"/><rect x="723.1" y="169.4" width="6.4" height="6.4" fill="#6639a5" fill-opacity="0.50"/><rect x="681.7" y="193.5" width="6.4" height="6.4" fill="#6639a5" fill-opacity="0.50"/><rect x="758.5" y="182.9" width="6.4" height="6.4" fill="#6639a5" fill-opacity="0.50"/><rect x="734.9" y="168.4" width="6.4" height="6.4" fill="#6639a5" fill-opacity="0.50"/><rect x="711.3" y="171.6" width="6.4" height="6.4" fill="#6639a5" fill-opacity="0.50"/><rect x="729.0" y="183.8" width="6.4" height="6.4" fill="#6639a5" fill-opacity="0.50"/><rect x="770.4" y="181.1" width="6.4" height="6.4" fill="#6639a5" fill-opacity="0.50"/><rect x="693.6" y="175.6" width="6.4" height="6.4" fill="#6639a5" fill-opacity="0.50"/><rect x="675.8" y="161.5" width="6.4" height="6.4" fill="#6639a5" fill-opacity="0.50"/><rect x="640.4" y="167.6" width="6.4" height="6.4" fill="#6639a5" fill-opacity="0.50"/><rect x="770.4" y="187.6" width="6.4" height="6.4" fill="#6639a5" fill-opacity="0.50"/><rect x="776.3" y="185.5" width="6.4" height="6.4" fill="#6639a5" fill-opacity="0.50"/><rect x="758.5" y="182.7" width="6.4" height="6.4" fill="#6639a5" fill-opacity="0.50"/><rect x="705.4" y="181.9" width="6.4" height="6.4" fill="#6639a5" fill-opacity="0.50"/><rect x="675.8" y="171.6" width="6.4" height="6.4" fill="#6639a5" fill-opacity="0.50"/><rect x="752.6" y="184.0" width="6.4" height="6.4" fill="#6639a5" fill-opacity="0.50"/><rect x="687.7" y="161.3" width="6.4" height="6.4" fill="#6639a5" fill-opacity="0.50"/><rect x="746.7" y="169.3" width="6.4" height="6.4" fill="#6639a5" fill-opacity="0.50"/><rect x="746.7" y="181.9" width="6.4" height="6.4" fill="#6639a5" fill-opacity="0.50"/><rect x="776.3" y="176.7" width="6.4" height="6.4" fill="#6639a5" fill-opacity="0.50"/><rect x="723.1" y="178.3" width="6.4" height="6.4" fill="#6639a5" fill-opacity="0.50"/><rect x="758.5" y="180.9" width="6.4" height="6.4" fill="#6639a5" fill-opacity="0.50"/><rect x="770.4" y="177.9" width="6.4" height="6.4" fill="#6639a5" fill-opacity="0.50"/><rect x="776.3" y="188.3" width="6.4" height="6.4" fill="#6639a5" fill-opacity="0.50"/><rect x="723.1" y="181.1" width="6.4" height="6.4" fill="#6639a5" fill-opacity="0.50"/><rect x="729.0" y="169.2" width="6.4" height="6.4" fill="#6639a5" fill-opacity="0.50"/><rect x="758.5" y="176.9" width="6.4" height="6.4" fill="#6639a5" fill-opacity="0.50"/><rect x="687.7" y="181.5" width="6.4" height="6.4" fill="#6639a5" fill-opacity="0.50"/><rect x="770.4" y="183.1" width="6.4" height="6.4" fill="#6639a5" fill-opacity="0.50"/><rect x="723.1" y="186.3" width="6.4" height="6.4" fill="#6639a5" fill-opacity="0.50"/><rect x="770.4" y="179.8" width="6.4" height="6.4" fill="#6639a5" fill-opacity="0.50"/><rect x="729.0" y="173.5" width="6.4" height="6.4" fill="#6639a5" fill-opacity="0.50"/><rect x="699.5" y="169.9" width="6.4" height="6.4" fill="#6639a5" fill-opacity="0.50"/><rect x="770.4" y="180.0" width="6.4" height="6.4" fill="#6639a5" fill-opacity="0.50"/><rect x="699.5" y="167.6" width="6.4" height="6.4" fill="#6639a5" fill-opacity="0.50"/><rect x="729.0" y="175.5" width="6.4" height="6.4" fill="#6639a5" fill-opacity="0.50"/><rect x="740.8" y="172.7" width="6.4" height="6.4" fill="#6639a5" fill-opacity="0.50"/><rect x="764.5" y="182.0" width="6.4" height="6.4" fill="#6639a5" fill-opacity="0.50"/><rect x="746.7" y="168.6" width="6.4" height="6.4" fill="#6639a5" fill-opacity="0.50"/><rect x="669.9" y="178.2" width="6.4" height="6.4" fill="#6639a5" fill-opacity="0.50"/><rect x="681.7" y="184.0" width="6.4" height="6.4" fill="#6639a5" fill-opacity="0.50"/><rect x="764.5" y="178.7" width="6.4" height="6.4" fill="#6639a5" fill-opacity="0.50"/><rect x="746.7" y="174.6" width="6.4" height="6.4" fill="#6639a5" fill-opacity="0.50"/><rect x="740.8" y="171.6" width="6.4" height="6.4" fill="#6639a5" fill-opacity="0.50"/><rect x="669.9" y="163.3" width="6.4" height="6.4" fill="#6639a5" fill-opacity="0.50"/><rect x="705.4" y="176.4" width="6.4" height="6.4" fill="#6639a5" fill-opacity="0.50"/><rect x="717.2" y="173.7" width="6.4" height="6.4" fill="#6639a5" fill-opacity="0.50"/><rect x="717.2" y="180.6" width="6.4" height="6.4" fill="#6639a5" fill-opacity="0.50"/><rect x="717.2" y="176.6" width="6.4" height="6.4" fill="#6639a5" fill-opacity="0.50"/><rect x="770.4" y="169.1" width="6.4" height="6.4" fill="#6639a5" fill-opacity="0.50"/><rect x="711.3" y="176.6" width="6.4" height="6.4" fill="#6639a5" fill-opacity="0.50"/><rect x="752.6" y="166.6" width="6.4" height="6.4" fill="#6639a5" fill-opacity="0.50"/><rect x="669.9" y="171.6" width="6.4" height="6.4" fill="#6639a5" fill-opacity="0.50"/><rect x="681.7" y="171.0" width="6.4" height="6.4" fill="#6639a5" fill-opacity="0.50"/><rect x="687.7" y="169.1" width="6.4" height="6.4" fill="#6639a5" fill-opacity="0.50"/><rect x="734.9" y="182.3" width="6.4" height="6.4" fill="#6639a5" fill-opacity="0.50"/><rect x="681.7" y="176.4" width="6.4" height="6.4" fill="#6639a5" fill-opacity="0.50"/><rect x="776.3" y="184.5" width="6.4" height="6.4" fill="#6639a5" fill-opacity="0.50"/><rect x="646.3" y="162.0" width="6.4" height="6.4" fill="#6639a5" fill-opacity="0.50"/><rect x="770.4" y="169.9" width="6.4" height="6.4" fill="#6639a5" fill-opacity="0.50"/><rect x="681.7" y="175.7" width="6.4" height="6.4" fill="#6639a5" fill-opacity="0.50"/><rect x="752.6" y="184.1" width="6.4" height="6.4" fill="#6639a5" fill-opacity="0.50"/><rect x="776.3" y="180.3" width="6.4" height="6.4" fill="#6639a5" fill-opacity="0.50"/><rect x="705.4" y="174.9" width="6.4" height="6.4" fill="#6639a5" fill-opacity="0.50"/><rect x="752.6" y="178.5" width="6.4" height="6.4" fill="#6639a5" fill-opacity="0.50"/><rect x="693.6" y="176.5" width="6.4" height="6.4" fill="#6639a5" fill-opacity="0.50"/><rect x="764.5" y="185.6" width="6.4" height="6.4" fill="#6639a5" fill-opacity="0.50"/><rect x="669.9" y="176.6" width="6.4" height="6.4" fill="#6639a5" fill-opacity="0.50"/><rect x="734.9" y="172.9" width="6.4" height="6.4" fill="#6639a5" fill-opacity="0.50"/><rect x="752.6" y="179.6" width="6.4" height="6.4" fill="#6639a5" fill-opacity="0.50"/><rect x="687.7" y="179.2" width="6.4" height="6.4" fill="#6639a5" fill-opacity="0.50"/><rect x="740.8" y="179.3" width="6.4" height="6.4" fill="#6639a5" fill-opacity="0.50"/><rect x="705.4" y="172.0" width="6.4" height="6.4" fill="#6639a5" fill-opacity="0.50"/><rect x="675.8" y="159.5" width="6.4" height="6.4" fill="#6639a5" fill-opacity="0.50"/><rect x="734.9" y="188.0" width="6.4" height="6.4" fill="#6639a5" fill-opacity="0.50"/><rect x="675.8" y="182.9" width="6.4" height="6.4" fill="#6639a5" fill-opacity="0.50"/><rect x="729.0" y="178.7" width="6.4" height="6.4" fill="#6639a5" fill-opacity="0.50"/><rect x="717.2" y="180.8" width="6.4" height="6.4" fill="#6639a5" fill-opacity="0.50"/><rect x="681.7" y="178.3" width="6.4" height="6.4" fill="#6639a5" fill-opacity="0.50"/><rect x="758.5" y="180.8" width="6.4" height="6.4" fill="#6639a5" fill-opacity="0.50"/><rect x="764.5" y="173.1" width="6.4" height="6.4" fill="#6639a5" fill-opacity="0.50"/><rect x="705.4" y="187.7" width="6.4" height="6.4" fill="#6639a5" fill-opacity="0.50"/><rect x="764.5" y="193.3" width="6.4" height="6.4" fill="#6639a5" fill-opacity="0.50"/><rect x="675.8" y="181.5" width="6.4" height="6.4" fill="#6639a5" fill-opacity="0.50"/><rect x="746.7" y="179.1" width="6.4" height="6.4" fill="#6639a5" fill-opacity="0.50"/><rect x="699.5" y="176.9" width="6.4" height="6.4" fill="#6639a5" fill-opacity="0.50"/><rect x="711.3" y="174.7" width="6.4" height="6.4" fill="#6639a5" fill-opacity="0.50"/><rect x="705.4" y="173.4" width="6.4" height="6.4" fill="#6639a5" fill-opacity="0.50"/><rect x="740.8" y="184.7" width="6.4" height="6.4" fill="#6639a5" fill-opacity="0.50"/><rect x="681.7" y="183.0" width="6.4" height="6.4" fill="#6639a5" fill-opacity="0.50"/><rect x="693.6" y="187.0" width="6.4" height="6.4" fill="#6639a5" fill-opacity="0.50"/><rect x="717.2" y="179.0" width="6.4" height="6.4" fill="#6639a5" fill-opacity="0.50"/><rect x="729.0" y="166.5" width="6.4" height="6.4" fill="#6639a5" fill-opacity="0.50"/><rect x="687.7" y="168.9" width="6.4" height="6.4" fill="#6639a5" fill-opacity="0.50"/><rect x="693.6" y="173.7" width="6.4" height="6.4" fill="#6639a5" fill-opacity="0.50"/><rect x="705.4" y="177.2" width="6.4" height="6.4" fill="#6639a5" fill-opacity="0.50"/><rect x="711.3" y="178.3" width="6.4" height="6.4" fill="#6639a5" fill-opacity="0.50"/><rect x="492.7" y="196.2" width="6.4" height="6.4" fill="#3a80b9" fill-opacity="0.50"/><rect x="492.7" y="202.5" width="6.4" height="6.4" fill="#3a80b9" fill-opacity="0.50"/><rect x="498.6" y="210.5" width="6.4" height="6.4" fill="#3a80b9" fill-opacity="0.50"/><rect x="498.6" y="207.7" width="6.4" height="6.4" fill="#3a80b9" fill-opacity="0.50"/><rect x="504.5" y="141.2" width="6.4" height="6.4" fill="#3a80b9" fill-opacity="0.50"/><rect x="504.5" y="193.5" width="6.4" height="6.4" fill="#3a80b9" fill-opacity="0.50"/><rect x="504.5" y="147.9" width="6.4" height="6.4" fill="#3a80b9" fill-opacity="0.50"/><rect x="504.5" y="178.8" width="6.4" height="6.4" fill="#3a80b9" fill-opacity="0.50"/><rect x="504.5" y="177.8" width="6.4" height="6.4" fill="#3a80b9" fill-opacity="0.50"/><rect x="504.5" y="172.8" width="6.4" height="6.4" fill="#3a80b9" fill-opacity="0.50"/><rect x="510.4" y="176.2" width="6.4" height="6.4" fill="#3a80b9" fill-opacity="0.50"/><rect x="510.4" y="181.8" width="6.4" height="6.4" fill="#3a80b9" fill-opacity="0.50"/><rect x="510.4" y="162.4" width="6.4" height="6.4" fill="#3a80b9" fill-opacity="0.50"/><rect x="510.4" y="213.3" width="6.4" height="6.4" fill="#3a80b9" fill-opacity="0.50"/><rect x="510.4" y="170.9" width="6.4" height="6.4" fill="#3a80b9" fill-opacity="0.50"/><rect x="510.4" y="184.7" width="6.4" height="6.4" fill="#3a80b9" fill-opacity="0.50"/><rect x="510.4" y="183.2" width="6.4" height="6.4" fill="#3a80b9" fill-opacity="0.50"/><rect x="516.3" y="164.2" width="6.4" height="6.4" fill="#3a80b9" fill-opacity="0.50"/><rect x="516.3" y="220.0" width="6.4" height="6.4" fill="#3a80b9" fill-opacity="0.50"/><rect x="516.3" y="197.2" width="6.4" height="6.4" fill="#3a80b9" fill-opacity="0.50"/><rect x="516.3" y="154.9" width="6.4" height="6.4" fill="#3a80b9" fill-opacity="0.50"/><rect x="516.3" y="182.5" width="6.4" height="6.4" fill="#3a80b9" fill-opacity="0.50"/><rect x="516.3" y="194.6" width="6.4" height="6.4" fill="#3a80b9" fill-opacity="0.50"/><rect x="516.3" y="176.4" width="6.4" height="6.4" fill="#3a80b9" fill-opacity="0.50"/><rect x="522.2" y="189.9" width="6.4" height="6.4" fill="#3a80b9" fill-opacity="0.50"/><rect x="522.2" y="178.8" width="6.4" height="6.4" fill="#3a80b9" fill-opacity="0.50"/><rect x="522.2" y="192.4" width="6.4" height="6.4" fill="#3a80b9" fill-opacity="0.50"/><rect x="522.2" y="195.7" width="6.4" height="6.4" fill="#3a80b9" fill-opacity="0.50"/><rect x="522.2" y="170.1" width="6.4" height="6.4" fill="#3a80b9" fill-opacity="0.50"/><rect x="522.2" y="183.5" width="6.4" height="6.4" fill="#3a80b9" fill-opacity="0.50"/><rect x="528.2" y="166.0" width="6.4" height="6.4" fill="#3a80b9" fill-opacity="0.50"/><rect x="528.2" y="167.6" width="6.4" height="6.4" fill="#3a80b9" fill-opacity="0.50"/><rect x="528.2" y="195.3" width="6.4" height="6.4" fill="#3a80b9" fill-opacity="0.50"/><rect x="528.2" y="180.5" width="6.4" height="6.4" fill="#3a80b9" fill-opacity="0.50"/><rect x="528.2" y="187.8" width="6.4" height="6.4" fill="#3a80b9" fill-opacity="0.50"/><rect x="528.2" y="196.8" width="6.4" height="6.4" fill="#3a80b9" fill-opacity="0.50"/><rect x="528.2" y="150.2" width="6.4" height="6.4" fill="#3a80b9" fill-opacity="0.50"/><rect x="534.1" y="182.8" width="6.4" height="6.4" fill="#3a80b9" fill-opacity="0.50"/><rect x="534.1" y="145.0" width="6.4" height="6.4" fill="#3a80b9" fill-opacity="0.50"/><rect x="534.1" y="175.1" width="6.4" height="6.4" fill="#3a80b9" fill-opacity="0.50"/><rect x="534.1" y="133.9" width="6.4" height="6.4" fill="#3a80b9" fill-opacity="0.50"/><rect x="534.1" y="191.3" width="6.4" height="6.4" fill="#3a80b9" fill-opacity="0.50"/><rect x="534.1" y="133.9" width="6.4" height="6.4" fill="#3a80b9" fill-opacity="0.50"/><rect x="540.0" y="222.0" width="6.4" height="6.4" fill="#3a80b9" fill-opacity="0.50"/><rect x="540.0" y="177.0" width="6.4" height="6.4" fill="#3a80b9" fill-opacity="0.50"/><rect x="540.0" y="176.2" width="6.4" height="6.4" fill="#3a80b9" fill-opacity="0.50"/><rect x="540.0" y="151.2" width="6.4" height="6.4" fill="#3a80b9" fill-opacity="0.50"/><rect x="540.0" y="209.0" width="6.4" height="6.4" fill="#3a80b9" fill-opacity="0.50"/><rect x="540.0" y="196.4" width="6.4" height="6.4" fill="#3a80b9" fill-opacity="0.50"/><rect x="540.0" y="163.7" width="6.4" height="6.4" fill="#3a80b9" fill-opacity="0.50"/><rect x="545.9" y="194.6" width="6.4" height="6.4" fill="#3a80b9" fill-opacity="0.50"/><rect x="545.9" y="185.9" width="6.4" height="6.4" fill="#3a80b9" fill-opacity="0.50"/><rect x="545.9" y="199.9" width="6.4" height="6.4" fill="#3a80b9" fill-opacity="0.50"/><rect x="545.9" y="193.9" width="6.4" height="6.4" fill="#3a80b9" fill-opacity="0.50"/><rect x="545.9" y="164.7" width="6.4" height="6.4" fill="#3a80b9" fill-opacity="0.50"/><rect x="545.9" y="194.9" width="6.4" height="6.4" fill="#3a80b9" fill-opacity="0.50"/><rect x="545.9" y="197.4" width="6.4" height="6.4" fill="#3a80b9" fill-opacity="0.50"/><rect x="551.8" y="210.2" width="6.4" height="6.4" fill="#3a80b9" fill-opacity="0.50"/><rect x="551.8" y="185.7" width="6.4" height="6.4" fill="#3a80b9" fill-opacity="0.50"/><rect x="551.8" y="177.9" width="6.4" height="6.4" fill="#3a80b9" fill-opacity="0.50"/><rect x="551.8" y="172.6" width="6.4" height="6.4" fill="#3a80b9" fill-opacity="0.50"/><rect x="551.8" y="217.7" width="6.4" height="6.4" fill="#3a80b9" fill-opacity="0.50"/><rect x="551.8" y="183.2" width="6.4" height="6.4" fill="#3a80b9" fill-opacity="0.50"/><rect x="551.8" y="206.5" width="6.4" height="6.4" fill="#3a80b9" fill-opacity="0.50"/><rect x="557.7" y="172.9" width="6.4" height="6.4" fill="#3a80b9" fill-opacity="0.50"/><rect x="557.7" y="189.3" width="6.4" height="6.4" fill="#3a80b9" fill-opacity="0.50"/><rect x="557.7" y="130.6" width="6.4" height="6.4" fill="#3a80b9" fill-opacity="0.50"/><rect x="557.7" y="174.8" width="6.4" height="6.4" fill="#3a80b9" fill-opacity="0.50"/><rect x="557.7" y="165.4" width="6.4" height="6.4" fill="#3a80b9" fill-opacity="0.50"/><rect x="557.7" y="194.9" width="6.4" height="6.4" fill="#3a80b9" fill-opacity="0.50"/><rect x="557.7" y="165.3" width="6.4" height="6.4" fill="#3a80b9" fill-opacity="0.50"/><rect x="563.6" y="213.4" width="6.4" height="6.4" fill="#3a80b9" fill-opacity="0.50"/><rect x="563.6" y="153.6" width="6.4" height="6.4" fill="#3a80b9" fill-opacity="0.50"/><rect x="563.6" y="150.9" width="6.4" height="6.4" fill="#3a80b9" fill-opacity="0.50"/><rect x="563.6" y="186.9" width="6.4" height="6.4" fill="#3a80b9" fill-opacity="0.50"/><rect x="563.6" y="216.2" width="6.4" height="6.4" fill="#3a80b9" fill-opacity="0.50"/><rect x="563.6" y="183.9" width="6.4" height="6.4" fill="#3a80b9" fill-opacity="0.50"/><rect x="563.6" y="186.1" width="6.4" height="6.4" fill="#3a80b9" fill-opacity="0.50"/><rect x="569.5" y="145.7" width="6.4" height="6.4" fill="#3a80b9" fill-opacity="0.50"/><rect x="569.5" y="159.1" width="6.4" height="6.4" fill="#3a80b9" fill-opacity="0.50"/><rect x="569.5" y="169.8" width="6.4" height="6.4" fill="#3a80b9" fill-opacity="0.50"/><rect x="569.5" y="189.0" width="6.4" height="6.4" fill="#3a80b9" fill-opacity="0.50"/><rect x="569.5" y="168.0" width="6.4" height="6.4" fill="#3a80b9" fill-opacity="0.50"/><rect x="569.5" y="148.4" width="6.4" height="6.4" fill="#3a80b9" fill-opacity="0.50"/><rect x="569.5" y="172.4" width="6.4" height="6.4" fill="#3a80b9" fill-opacity="0.50"/><rect x="575.4" y="165.5" width="6.4" height="6.4" fill="#3a80b9" fill-opacity="0.50"/><rect x="575.4" y="178.7" width="6.4" height="6.4" fill="#3a80b9" fill-opacity="0.50"/><rect x="575.4" y="197.1" width="6.4" height="6.4" fill="#3a80b9" fill-opacity="0.50"/><rect x="575.4" y="162.2" width="6.4" height="6.4" fill="#3a80b9" fill-opacity="0.50"/><rect x="575.4" y="139.8" width="6.4" height="6.4" fill="#3a80b9" fill-opacity="0.50"/><rect x="575.4" y="143.0" width="6.4" height="6.4" fill="#3a80b9" fill-opacity="0.50"/><rect x="575.4" y="191.1" width="6.4" height="6.4" fill="#3a80b9" fill-opacity="0.50"/><rect x="581.3" y="190.8" width="6.4" height="6.4" fill="#3a80b9" fill-opacity="0.50"/><rect x="581.3" y="155.5" width="6.4" height="6.4" fill="#3a80b9" fill-opacity="0.50"/><rect x="581.3" y="153.7" width="6.4" height="6.4" fill="#3a80b9" fill-opacity="0.50"/><rect x="581.3" y="143.7" width="6.4" height="6.4" fill="#3a80b9" fill-opacity="0.50"/><rect x="581.3" y="148.8" width="6.4" height="6.4" fill="#3a80b9" fill-opacity="0.50"/><rect x="581.3" y="194.4" width="6.4" height="6.4" fill="#3a80b9" fill-opacity="0.50"/><rect x="581.3" y="132.7" width="6.4" height="6.4" fill="#3a80b9" fill-opacity="0.50"/><rect x="587.2" y="225.9" width="6.4" height="6.4" fill="#3a80b9" fill-opacity="0.50"/><rect x="587.2" y="146.2" width="6.4" height="6.4" fill="#3a80b9" fill-opacity="0.50"/><rect x="587.2" y="178.1" width="6.4" height="6.4" fill="#3a80b9" fill-opacity="0.50"/><rect x="587.2" y="150.8" width="6.4" height="6.4" fill="#3a80b9" fill-opacity="0.50"/><rect x="587.2" y="186.2" width="6.4" height="6.4" fill="#3a80b9" fill-opacity="0.50"/><rect x="587.2" y="181.3" width="6.4" height="6.4" fill="#3a80b9" fill-opacity="0.50"/><rect x="587.2" y="148.4" width="6.4" height="6.4" fill="#3a80b9" fill-opacity="0.50"/><rect x="593.1" y="189.5" width="6.4" height="6.4" fill="#3a80b9" fill-opacity="0.50"/><rect x="593.1" y="186.9" width="6.4" height="6.4" fill="#3a80b9" fill-opacity="0.50"/><rect x="593.1" y="198.8" width="6.4" height="6.4" fill="#3a80b9" fill-opacity="0.50"/><rect x="593.1" y="181.3" width="6.4" height="6.4" fill="#3a80b9" fill-opacity="0.50"/><rect x="593.1" y="138.3" width="6.4" height="6.4" fill="#3a80b9" fill-opacity="0.50"/><rect x="593.1" y="187.8" width="6.4" height="6.4" fill="#3a80b9" fill-opacity="0.50"/><rect x="593.1" y="144.2" width="6.4" height="6.4" fill="#3a80b9" fill-opacity="0.50"/><rect x="599.0" y="147.6" width="6.4" height="6.4" fill="#3a80b9" fill-opacity="0.50"/><rect x="599.0" y="196.5" width="6.4" height="6.4" fill="#3a80b9" fill-opacity="0.50"/><rect x="599.0" y="173.7" width="6.4" height="6.4" fill="#3a80b9" fill-opacity="0.50"/><rect x="599.0" y="177.4" width="6.4" height="6.4" fill="#3a80b9" fill-opacity="0.50"/><rect x="599.0" y="165.4" width="6.4" height="6.4" fill="#3a80b9" fill-opacity="0.50"/><rect x="599.0" y="165.6" width="6.4" height="6.4" fill="#3a80b9" fill-opacity="0.50"/><rect x="599.0" y="159.9" width="6.4" height="6.4" fill="#3a80b9" fill-opacity="0.50"/><rect x="604.9" y="183.9" width="6.4" height="6.4" fill="#3a80b9" fill-opacity="0.50"/><rect x="604.9" y="151.9" width="6.4" height="6.4" fill="#3a80b9" fill-opacity="0.50"/><rect x="604.9" y="168.7" width="6.4" height="6.4" fill="#3a80b9" fill-opacity="0.50"/><rect x="604.9" y="208.1" width="6.4" height="6.4" fill="#3a80b9" fill-opacity="0.50"/><rect x="604.9" y="175.8" width="6.4" height="6.4" fill="#3a80b9" fill-opacity="0.50"/><rect x="604.9" y="146.4" width="6.4" height="6.4" fill="#3a80b9" fill-opacity="0.50"/><rect x="604.9" y="155.4" width="6.4" height="6.4" fill="#3a80b9" fill-opacity="0.50"/><rect x="610.9" y="175.7" width="6.4" height="6.4" fill="#3a80b9" fill-opacity="0.50"/><rect x="610.9" y="180.3" width="6.4" height="6.4" fill="#3a80b9" fill-opacity="0.50"/><rect x="610.9" y="197.2" width="6.4" height="6.4" fill="#3a80b9" fill-opacity="0.50"/><rect x="610.9" y="207.5" width="6.4" height="6.4" fill="#3a80b9" fill-opacity="0.50"/><rect x="610.9" y="176.7" width="6.4" height="6.4" fill="#3a80b9" fill-opacity="0.50"/><rect x="610.9" y="169.7" width="6.4" height="6.4" fill="#3a80b9" fill-opacity="0.50"/><rect x="610.9" y="219.6" width="6.4" height="6.4" fill="#3a80b9" fill-opacity="0.50"/><rect x="616.8" y="183.7" width="6.4" height="6.4" fill="#3a80b9" fill-opacity="0.50"/><rect x="616.8" y="146.2" width="6.4" height="6.4" fill="#3a80b9" fill-opacity="0.50"/><rect x="616.8" y="188.3" width="6.4" height="6.4" fill="#3a80b9" fill-opacity="0.50"/><rect x="616.8" y="156.8" width="6.4" height="6.4" fill="#3a80b9" fill-opacity="0.50"/><rect x="616.8" y="165.5" width="6.4" height="6.4" fill="#3a80b9" fill-opacity="0.50"/><rect x="616.8" y="176.0" width="6.4" height="6.4" fill="#3a80b9" fill-opacity="0.50"/><rect x="622.7" y="184.4" width="6.4" height="6.4" fill="#3a80b9" fill-opacity="0.50"/><rect x="622.7" y="178.7" width="6.4" height="6.4" fill="#3a80b9" fill-opacity="0.50"/><rect x="622.7" y="169.5" width="6.4" height="6.4" fill="#3a80b9" fill-opacity="0.50"/><rect x="622.7" y="169.6" width="6.4" height="6.4" fill="#3a80b9" fill-opacity="0.50"/><rect x="622.7" y="205.1" width="6.4" height="6.4" fill="#3a80b9" fill-opacity="0.50"/><rect x="622.7" y="193.9" width="6.4" height="6.4" fill="#3a80b9" fill-opacity="0.50"/><rect x="622.7" y="159.3" width="6.4" height="6.4" fill="#3a80b9" fill-opacity="0.50"/><rect x="628.6" y="122.4" width="6.4" height="6.4" fill="#3a80b9" fill-opacity="0.50"/><rect x="628.6" y="197.2" width="6.4" height="6.4" fill="#3a80b9" fill-opacity="0.50"/><rect x="628.6" y="165.7" width="6.4" height="6.4" fill="#3a80b9" fill-opacity="0.50"/><rect x="628.6" y="183.1" width="6.4" height="6.4" fill="#3a80b9" fill-opacity="0.50"/><rect x="628.6" y="170.5" width="6.4" height="6.4" fill="#3a80b9" fill-opacity="0.50"/><rect x="628.6" y="143.5" width="6.4" height="6.4" fill="#3a80b9" fill-opacity="0.50"/><rect x="628.6" y="180.0" width="6.4" height="6.4" fill="#3a80b9" fill-opacity="0.50"/><rect x="634.5" y="222.0" width="6.4" height="6.4" fill="#3a80b9" fill-opacity="0.50"/><rect x="634.5" y="158.9" width="6.4" height="6.4" fill="#3a80b9" fill-opacity="0.50"/><rect x="634.5" y="170.3" width="6.4" height="6.4" fill="#3a80b9" fill-opacity="0.50"/><rect x="634.5" y="194.9" width="6.4" height="6.4" fill="#3a80b9" fill-opacity="0.50"/><rect x="634.5" y="189.9" width="6.4" height="6.4" fill="#3a80b9" fill-opacity="0.50"/><rect x="634.5" y="166.6" width="6.4" height="6.4" fill="#3a80b9" fill-opacity="0.50"/><rect x="634.5" y="162.4" width="6.4" height="6.4" fill="#3a80b9" fill-opacity="0.50"/><rect x="640.4" y="153.2" width="6.4" height="6.4" fill="#3a80b9" fill-opacity="0.50"/><rect x="640.4" y="139.7" width="6.4" height="6.4" fill="#3a80b9" fill-opacity="0.50"/><rect x="640.4" y="165.6" width="6.4" height="6.4" fill="#3a80b9" fill-opacity="0.50"/><rect x="640.4" y="173.0" width="6.4" height="6.4" fill="#3a80b9" fill-opacity="0.50"/><rect x="640.4" y="129.8" width="6.4" height="6.4" fill="#3a80b9" fill-opacity="0.50"/><rect x="640.4" y="199.3" width="6.4" height="6.4" fill="#3a80b9" fill-opacity="0.50"/><rect x="640.4" y="205.4" width="6.4" height="6.4" fill="#3a80b9" fill-opacity="0.50"/><rect x="646.3" y="145.1" width="6.4" height="6.4" fill="#3a80b9" fill-opacity="0.50"/><rect x="646.3" y="207.2" width="6.4" height="6.4" fill="#3a80b9" fill-opacity="0.50"/><rect x="646.3" y="168.6" width="6.4" height="6.4" fill="#3a80b9" fill-opacity="0.50"/><rect x="646.3" y="184.2" width="6.4" height="6.4" fill="#3a80b9" fill-opacity="0.50"/><rect x="646.3" y="155.0" width="6.4" height="6.4" fill="#3a80b9" fill-opacity="0.50"/><rect x="646.3" y="173.1" width="6.4" height="6.4" fill="#3a80b9" fill-opacity="0.50"/><rect x="652.2" y="192.6" width="6.4" height="6.4" fill="#3a80b9" fill-opacity="0.50"/><rect x="652.2" y="179.1" width="6.4" height="6.4" fill="#3a80b9" fill-opacity="0.50"/><rect x="652.2" y="190.7" width="6.4" height="6.4" fill="#3a80b9" fill-opacity="0.50"/><rect x="652.2" y="177.7" width="6.4" height="6.4" fill="#3a80b9" fill-opacity="0.50"/><rect x="652.2" y="157.8" width="6.4" height="6.4" fill="#3a80b9" fill-opacity="0.50"/><rect x="652.2" y="159.9" width="6.4" height="6.4" fill="#3a80b9" fill-opacity="0.50"/><rect x="652.2" y="179.0" width="6.4" height="6.4" fill="#3a80b9" fill-opacity="0.50"/><rect x="658.1" y="143.5" width="6.4" height="6.4" fill="#3a80b9" fill-opacity="0.50"/><rect x="658.1" y="187.5" width="6.4" height="6.4" fill="#3a80b9" fill-opacity="0.50"/><rect x="658.1" y="193.0" width="6.4" height="6.4" fill="#3a80b9" fill-opacity="0.50"/><rect x="658.1" y="145.6" width="6.4" height="6.4" fill="#3a80b9" fill-opacity="0.50"/><rect x="658.1" y="173.6" width="6.4" height="6.4" fill="#3a80b9" fill-opacity="0.50"/><rect x="658.1" y="164.5" width="6.4" height="6.4" fill="#3a80b9" fill-opacity="0.50"/><rect x="658.1" y="135.9" width="6.4" height="6.4" fill="#3a80b9" fill-opacity="0.50"/><rect x="664.0" y="183.9" width="6.4" height="6.4" fill="#3a80b9" fill-opacity="0.50"/><rect x="664.0" y="203.4" width="6.4" height="6.4" fill="#3a80b9" fill-opacity="0.50"/><rect x="664.0" y="186.2" width="6.4" height="6.4" fill="#3a80b9" fill-opacity="0.50"/><rect x="664.0" y="160.3" width="6.4" height="6.4" fill="#3a80b9" fill-opacity="0.50"/><rect x="664.0" y="168.3" width="6.4" height="6.4" fill="#3a80b9" fill-opacity="0.50"/><rect x="664.0" y="200.0" width="6.4" height="6.4" fill="#3a80b9" fill-opacity="0.50"/><rect x="664.0" y="172.8" width="6.4" height="6.4" fill="#3a80b9" fill-opacity="0.50"/><rect x="669.9" y="151.4" width="6.4" height="6.4" fill="#3a80b9" fill-opacity="0.50"/><rect x="669.9" y="197.2" width="6.4" height="6.4" fill="#3a80b9" fill-opacity="0.50"/><rect x="669.9" y="174.5" width="6.4" height="6.4" fill="#3a80b9" fill-opacity="0.50"/><rect x="669.9" y="157.3" width="6.4" height="6.4" fill="#3a80b9" fill-opacity="0.50"/><rect x="669.9" y="173.6" width="6.4" height="6.4" fill="#3a80b9" fill-opacity="0.50"/><rect x="669.9" y="157.3" width="6.4" height="6.4" fill="#3a80b9" fill-opacity="0.50"/><rect x="669.9" y="183.0" width="6.4" height="6.4" fill="#3a80b9" fill-opacity="0.50"/><rect x="675.8" y="184.8" width="6.4" height="6.4" fill="#3a80b9" fill-opacity="0.50"/><rect x="675.8" y="170.7" width="6.4" height="6.4" fill="#3a80b9" fill-opacity="0.50"/><rect x="675.8" y="168.3" width="6.4" height="6.4" fill="#3a80b9" fill-opacity="0.50"/><rect x="675.8" y="186.7" width="6.4" height="6.4" fill="#3a80b9" fill-opacity="0.50"/><rect x="675.8" y="136.9" width="6.4" height="6.4" fill="#3a80b9" fill-opacity="0.50"/><rect x="675.8" y="181.7" width="6.4" height="6.4" fill="#3a80b9" fill-opacity="0.50"/><rect x="681.7" y="149.6" width="6.4" height="6.4" fill="#3a80b9" fill-opacity="0.50"/><rect x="681.7" y="169.2" width="6.4" height="6.4" fill="#3a80b9" fill-opacity="0.50"/><rect x="681.7" y="139.9" width="6.4" height="6.4" fill="#3a80b9" fill-opacity="0.50"/><rect x="681.7" y="206.3" width="6.4" height="6.4" fill="#3a80b9" fill-opacity="0.50"/><rect x="681.7" y="205.4" width="6.4" height="6.4" fill="#3a80b9" fill-opacity="0.50"/><rect x="681.7" y="178.4" width="6.4" height="6.4" fill="#3a80b9" fill-opacity="0.50"/><rect x="687.7" y="208.7" width="6.4" height="6.4" fill="#3a80b9" fill-opacity="0.50"/><rect x="687.7" y="184.5" width="6.4" height="6.4" fill="#3a80b9" fill-opacity="0.50"/><rect x="687.7" y="156.8" width="6.4" height="6.4" fill="#3a80b9" fill-opacity="0.50"/><rect x="687.7" y="162.2" width="6.4" height="6.4" fill="#3a80b9" fill-opacity="0.50"/><rect x="687.7" y="163.0" width="6.4" height="6.4" fill="#3a80b9" fill-opacity="0.50"/><rect x="687.7" y="142.4" width="6.4" height="6.4" fill="#3a80b9" fill-opacity="0.50"/><rect x="687.7" y="218.8" width="6.4" height="6.4" fill="#3a80b9" fill-opacity="0.50"/><rect x="693.6" y="160.8" width="6.4" height="6.4" fill="#3a80b9" fill-opacity="0.50"/><rect x="693.6" y="174.1" width="6.4" height="6.4" fill="#3a80b9" fill-opacity="0.50"/><rect x="693.6" y="177.5" width="6.4" height="6.4" fill="#3a80b9" fill-opacity="0.50"/><rect x="693.6" y="185.1" width="6.4" height="6.4" fill="#3a80b9" fill-opacity="0.50"/><rect x="693.6" y="154.5" width="6.4" height="6.4" fill="#3a80b9" fill-opacity="0.50"/><rect x="693.6" y="138.7" width="6.4" height="6.4" fill="#3a80b9" fill-opacity="0.50"/><rect x="693.6" y="183.2" width="6.4" height="6.4" fill="#3a80b9" fill-opacity="0.50"/><rect x="699.5" y="181.8" width="6.4" height="6.4" fill="#3a80b9" fill-opacity="0.50"/><rect x="699.5" y="194.5" width="6.4" height="6.4" fill="#3a80b9" fill-opacity="0.50"/><rect x="699.5" y="190.9" width="6.4" height="6.4" fill="#3a80b9" fill-opacity="0.50"/><rect x="699.5" y="216.3" width="6.4" height="6.4" fill="#3a80b9" fill-opacity="0.50"/><rect x="699.5" y="198.1" width="6.4" height="6.4" fill="#3a80b9" fill-opacity="0.50"/><rect x="699.5" y="216.7" width="6.4" height="6.4" fill="#3a80b9" fill-opacity="0.50"/><rect x="699.5" y="167.1" width="6.4" height="6.4" fill="#3a80b9" fill-opacity="0.50"/><rect x="705.4" y="179.2" width="6.4" height="6.4" fill="#3a80b9" fill-opacity="0.50"/><rect x="705.4" y="195.3" width="6.4" height="6.4" fill="#3a80b9" fill-opacity="0.50"/><rect x="705.4" y="171.5" width="6.4" height="6.4" fill="#3a80b9" fill-opacity="0.50"/><rect x="705.4" y="207.8" width="6.4" height="6.4" fill="#3a80b9" fill-opacity="0.50"/><rect x="705.4" y="151.7" width="6.4" height="6.4" fill="#3a80b9" fill-opacity="0.50"/><rect x="705.4" y="186.7" width="6.4" height="6.4" fill="#3a80b9" fill-opacity="0.50"/><rect x="705.4" y="162.2" width="6.4" height="6.4" fill="#3a80b9" fill-opacity="0.50"/><rect x="711.3" y="195.6" width="6.4" height="6.4" fill="#3a80b9" fill-opacity="0.50"/><rect x="711.3" y="149.2" width="6.4" height="6.4" fill="#3a80b9" fill-opacity="0.50"/><rect x="711.3" y="194.4" width="6.4" height="6.4" fill="#3a80b9" fill-opacity="0.50"/><rect x="711.3" y="210.8" width="6.4" height="6.4" fill="#3a80b9" fill-opacity="0.50"/><rect x="711.3" y="179.0" width="6.4" height="6.4" fill="#3a80b9" fill-opacity="0.50"/><rect x="711.3" y="200.4" width="6.4" height="6.4" fill="#3a80b9" fill-opacity="0.50"/><rect x="711.3" y="180.9" width="6.4" height="6.4" fill="#3a80b9" fill-opacity="0.50"/><rect x="717.2" y="164.7" width="6.4" height="6.4" fill="#3a80b9" fill-opacity="0.50"/><rect x="717.2" y="205.0" width="6.4" height="6.4" fill="#3a80b9" fill-opacity="0.50"/><rect x="717.2" y="168.8" width="6.4" height="6.4" fill="#3a80b9" fill-opacity="0.50"/><rect x="717.2" y="171.8" width="6.4" height="6.4" fill="#3a80b9" fill-opacity="0.50"/><rect x="717.2" y="176.4" width="6.4" height="6.4" fill="#3a80b9" fill-opacity="0.50"/><rect x="717.2" y="189.8" width="6.4" height="6.4" fill="#3a80b9" fill-opacity="0.50"/><rect x="717.2" y="178.6" width="6.4" height="6.4" fill="#3a80b9" fill-opacity="0.50"/><rect x="723.1" y="161.3" width="6.4" height="6.4" fill="#3a80b9" fill-opacity="0.50"/><rect x="723.1" y="171.6" width="6.4" height="6.4" fill="#3a80b9" fill-opacity="0.50"/><rect x="723.1" y="163.7" width="6.4" height="6.4" fill="#3a80b9" fill-opacity="0.50"/><rect x="723.1" y="191.8" width="6.4" height="6.4" fill="#3a80b9" fill-opacity="0.50"/><rect x="723.1" y="198.5" width="6.4" height="6.4" fill="#3a80b9" fill-opacity="0.50"/><rect x="723.1" y="182.3" width="6.4" height="6.4" fill="#3a80b9" fill-opacity="0.50"/><rect x="723.1" y="158.1" width="6.4" height="6.4" fill="#3a80b9" fill-opacity="0.50"/><rect x="729.0" y="176.1" width="6.4" height="6.4" fill="#3a80b9" fill-opacity="0.50"/><rect x="729.0" y="181.0" width="6.4" height="6.4" fill="#3a80b9" fill-opacity="0.50"/><rect x="729.0" y="137.8" width="6.4" height="6.4" fill="#3a80b9" fill-opacity="0.50"/><rect x="729.0" y="207.9" width="6.4" height="6.4" fill="#3a80b9" fill-opacity="0.50"/><rect x="729.0" y="168.6" width="6.4" height="6.4" fill="#3a80b9" fill-opacity="0.50"/><rect x="729.0" y="186.5" width="6.4" height="6.4" fill="#3a80b9" fill-opacity="0.50"/><rect x="729.0" y="180.3" width="6.4" height="6.4" fill="#3a80b9" fill-opacity="0.50"/><rect x="734.9" y="181.8" width="6.4" height="6.4" fill="#3a80b9" fill-opacity="0.50"/><rect x="734.9" y="193.9" width="6.4" height="6.4" fill="#3a80b9" fill-opacity="0.50"/><rect x="734.9" y="143.4" width="6.4" height="6.4" fill="#3a80b9" fill-opacity="0.50"/><rect x="734.9" y="205.7" width="6.4" height="6.4" fill="#3a80b9" fill-opacity="0.50"/><rect x="734.9" y="168.2" width="6.4" height="6.4" fill="#3a80b9" fill-opacity="0.50"/><rect x="734.9" y="129.6" width="6.4" height="6.4" fill="#3a80b9" fill-opacity="0.50"/><rect x="734.9" y="140.2" width="6.4" height="6.4" fill="#3a80b9" fill-opacity="0.50"/><rect x="740.8" y="193.6" width="6.4" height="6.4" fill="#3a80b9" fill-opacity="0.50"/><rect x="740.8" y="187.9" width="6.4" height="6.4" fill="#3a80b9" fill-opacity="0.50"/><rect x="740.8" y="147.1" width="6.4" height="6.4" fill="#3a80b9" fill-opacity="0.50"/><rect x="740.8" y="159.8" width="6.4" height="6.4" fill="#3a80b9" fill-opacity="0.50"/><rect x="740.8" y="198.5" width="6.4" height="6.4" fill="#3a80b9" fill-opacity="0.50"/><rect x="740.8" y="180.0" width="6.4" height="6.4" fill="#3a80b9" fill-opacity="0.50"/><rect x="740.8" y="170.7" width="6.4" height="6.4" fill="#3a80b9" fill-opacity="0.50"/><rect x="746.7" y="192.5" width="6.4" height="6.4" fill="#3a80b9" fill-opacity="0.50"/><rect x="746.7" y="162.0" width="6.4" height="6.4" fill="#3a80b9" fill-opacity="0.50"/><rect x="746.7" y="194.0" width="6.4" height="6.4" fill="#3a80b9" fill-opacity="0.50"/><rect x="746.7" y="196.5" width="6.4" height="6.4" fill="#3a80b9" fill-opacity="0.50"/><rect x="746.7" y="189.2" width="6.4" height="6.4" fill="#3a80b9" fill-opacity="0.50"/><rect x="746.7" y="175.0" width="6.4" height="6.4" fill="#3a80b9" fill-opacity="0.50"/><rect x="746.7" y="126.7" width="6.4" height="6.4" fill="#3a80b9" fill-opacity="0.50"/><rect x="752.6" y="176.6" width="6.4" height="6.4" fill="#3a80b9" fill-opacity="0.50"/><rect x="752.6" y="149.6" width="6.4" height="6.4" fill="#3a80b9" fill-opacity="0.50"/><rect x="752.6" y="170.6" width="6.4" height="6.4" fill="#3a80b9" fill-opacity="0.50"/><rect x="752.6" y="189.1" width="6.4" height="6.4" fill="#3a80b9" fill-opacity="0.50"/><rect x="752.6" y="184.5" width="6.4" height="6.4" fill="#3a80b9" fill-opacity="0.50"/><rect x="752.6" y="180.0" width="6.4" height="6.4" fill="#3a80b9" fill-opacity="0.50"/><rect x="752.6" y="195.1" width="6.4" height="6.4" fill="#3a80b9" fill-opacity="0.50"/><rect x="758.5" y="153.4" width="6.4" height="6.4" fill="#3a80b9" fill-opacity="0.50"/><rect x="758.5" y="199.7" width="6.4" height="6.4" fill="#3a80b9" fill-opacity="0.50"/><rect x="758.5" y="205.9" width="6.4" height="6.4" fill="#3a80b9" fill-opacity="0.50"/><rect x="758.5" y="179.3" width="6.4" height="6.4" fill="#3a80b9" fill-opacity="0.50"/><rect x="758.5" y="199.2" width="6.4" height="6.4" fill="#3a80b9" fill-opacity="0.50"/><rect x="758.5" y="201.8" width="6.4" height="6.4" fill="#3a80b9" fill-opacity="0.50"/><rect x="758.5" y="136.0" width="6.4" height="6.4" fill="#3a80b9" fill-opacity="0.50"/><rect x="764.5" y="180.6" width="6.4" height="6.4" fill="#3a80b9" fill-opacity="0.50"/><rect x="764.5" y="165.0" width="6.4" height="6.4" fill="#3a80b9" fill-opacity="0.50"/><rect x="764.5" y="192.1" width="6.4" height="6.4" fill="#3a80b9" fill-opacity="0.50"/><rect x="764.5" y="170.0" width="6.4" height="6.4" fill="#3a80b9" fill-opacity="0.50"/><rect x="764.5" y="174.9" width="6.4" height="6.4" fill="#3a80b9" fill-opacity="0.50"/><rect x="764.5" y="180.7" width="6.4" height="6.4" fill="#3a80b9" fill-opacity="0.50"/><rect x="764.5" y="164.4" width="6.4" height="6.4" fill="#3a80b9" fill-opacity="0.50"/><rect x="770.4" y="200.6" width="6.4" height="6.4" fill="#3a80b9" fill-opacity="0.50"/><rect x="770.4" y="175.9" width="6.4" height="6.4" fill="#3a80b9" fill-opacity="0.50"/><rect x="770.4" y="179.1" width="6.4" height="6.4" fill="#3a80b9" fill-opacity="0.50"/><rect x="770.4" y="181.4" width="6.4" height="6.4" fill="#3a80b9" fill-opacity="0.50"/><rect x="770.4" y="195.3" width="6.4" height="6.4" fill="#3a80b9" fill-opacity="0.50"/><rect x="770.4" y="186.2" width="6.4" height="6.4" fill="#3a80b9" fill-opacity="0.50"/><rect x="770.4" y="173.6" width="6.4" height="6.4" fill="#3a80b9" fill-opacity="0.50"/><rect x="776.3" y="156.1" width="6.4" height="6.4" fill="#3a80b9" fill-opacity="0.50"/><rect x="776.3" y="200.4" width="6.4" height="6.4" fill="#3a80b9" fill-opacity="0.50"/><rect x="776.3" y="192.8" width="6.4" height="6.4" fill="#3a80b9" fill-opacity="0.50"/><rect x="776.3" y="165.9" width="6.4" height="6.4" fill="#3a80b9" fill-opacity="0.50"/><rect x="776.3" y="176.0" width="6.4" height="6.4" fill="#3a80b9" fill-opacity="0.50"/><rect x="776.3" y="161.7" width="6.4" height="6.4" fill="#3a80b9" fill-opacity="0.50"/><rect x="776.3" y="171.0" width="6.4" height="6.4" fill="#3a80b9" fill-opacity="0.50"/><rect x="675.8" y="173.8" width="6.4" height="6.4" fill="#6639a5" fill-opacity="0.50"/><rect x="693.6" y="178.2" width="6.4" height="6.4" fill="#6639a5" fill-opacity="0.50"/><rect x="758.5" y="189.2" width="6.4" height="6.4" fill="#6639a5" fill-opacity="0.50"/><rect x="669.9" y="169.9" width="6.4" height="6.4" fill="#6639a5" fill-opacity="0.50"/><rect x="717.2" y="174.5" width="6.4" height="6.4" fill="#6639a5" fill-opacity="0.50"/><rect x="669.9" y="174.7" width="6.4" height="6.4" fill="#6639a5" fill-opacity="0.50"/><rect x="711.3" y="167.5" width="6.4" height="6.4" fill="#6639a5" fill-opacity="0.50"/><rect x="740.8" y="174.3" width="6.4" height="6.4" fill="#6639a5" fill-opacity="0.50"/><rect x="740.8" y="175.9" width="6.4" height="6.4" fill="#6639a5" fill-opacity="0.50"/><rect x="669.9" y="181.8" width="6.4" height="6.4" fill="#6639a5" fill-opacity="0.50"/><rect x="752.6" y="174.9" width="6.4" height="6.4" fill="#6639a5" fill-opacity="0.50"/><rect x="669.9" y="172.5" width="6.4" height="6.4" fill="#6639a5" fill-opacity="0.50"/><rect x="776.3" y="179.6" width="6.4" height="6.4" fill="#6639a5" fill-opacity="0.50"/><rect x="705.4" y="172.9" width="6.4" height="6.4" fill="#6639a5" fill-opacity="0.50"/><rect x="746.7" y="166.4" width="6.4" height="6.4" fill="#6639a5" fill-opacity="0.50"/><rect x="729.0" y="179.6" width="6.4" height="6.4" fill="#6639a5" fill-opacity="0.50"/><rect x="734.9" y="175.6" width="6.4" height="6.4" fill="#6639a5" fill-opacity="0.50"/><rect x="740.8" y="185.4" width="6.4" height="6.4" fill="#6639a5" fill-opacity="0.50"/><rect x="734.9" y="174.1" width="6.4" height="6.4" fill="#6639a5" fill-opacity="0.50"/><rect x="740.8" y="183.1" width="6.4" height="6.4" fill="#6639a5" fill-opacity="0.50"/><rect x="687.7" y="174.7" width="6.4" height="6.4" fill="#6639a5" fill-opacity="0.50"/><rect x="681.7" y="184.4" width="6.4" height="6.4" fill="#6639a5" fill-opacity="0.50"/><rect x="746.7" y="173.8" width="6.4" height="6.4" fill="#6639a5" fill-opacity="0.50"/><rect x="734.9" y="174.1" width="6.4" height="6.4" fill="#6639a5" fill-opacity="0.50"/><rect x="740.8" y="179.7" width="6.4" height="6.4" fill="#6639a5" fill-opacity="0.50"/><rect x="723.1" y="170.5" width="6.4" height="6.4" fill="#6639a5" fill-opacity="0.50"/><rect x="699.5" y="187.3" width="6.4" height="6.4" fill="#6639a5" fill-opacity="0.50"/><rect x="675.8" y="169.5" width="6.4" height="6.4" fill="#6639a5" fill-opacity="0.50"/><rect x="729.0" y="178.4" width="6.4" height="6.4" fill="#6639a5" fill-opacity="0.50"/><rect x="687.7" y="173.8" width="6.4" height="6.4" fill="#6639a5" fill-opacity="0.50"/><rect x="652.2" y="150.0" width="6.4" height="6.4" fill="#6639a5" fill-opacity="0.50"/><rect x="752.6" y="168.5" width="6.4" height="6.4" fill="#6639a5" fill-opacity="0.50"/><rect x="723.1" y="171.6" width="6.4" height="6.4" fill="#6639a5" fill-opacity="0.50"/><rect x="693.6" y="171.5" width="6.4" height="6.4" fill="#6639a5" fill-opacity="0.50"/><rect x="776.3" y="176.5" width="6.4" height="6.4" fill="#6639a5" fill-opacity="0.50"/><rect x="729.0" y="182.2" width="6.4" height="6.4" fill="#6639a5" fill-opacity="0.50"/><rect x="776.3" y="180.9" width="6.4" height="6.4" fill="#6639a5" fill-opacity="0.50"/><rect x="711.3" y="185.7" width="6.4" height="6.4" fill="#6639a5" fill-opacity="0.50"/><rect x="693.6" y="158.8" width="6.4" height="6.4" fill="#6639a5" fill-opacity="0.50"/><rect x="734.9" y="174.9" width="6.4" height="6.4" fill="#6639a5" fill-opacity="0.50"/><rect x="746.7" y="175.8" width="6.4" height="6.4" fill="#6639a5" fill-opacity="0.50"/><rect x="699.5" y="175.0" width="6.4" height="6.4" fill="#6639a5" fill-opacity="0.50"/><rect x="746.7" y="174.1" width="6.4" height="6.4" fill="#6639a5" fill-opacity="0.50"/><rect x="734.9" y="191.5" width="6.4" height="6.4" fill="#6639a5" fill-opacity="0.50"/><rect x="776.3" y="173.3" width="6.4" height="6.4" fill="#6639a5" fill-opacity="0.50"/><rect x="764.5" y="175.8" width="6.4" height="6.4" fill="#6639a5" fill-opacity="0.50"/><rect x="681.7" y="183.6" width="6.4" height="6.4" fill="#6639a5" fill-opacity="0.50"/><rect x="764.5" y="180.5" width="6.4" height="6.4" fill="#6639a5" fill-opacity="0.50"/><rect x="675.8" y="183.1" width="6.4" height="6.4" fill="#6639a5" fill-opacity="0.50"/><rect x="717.2" y="177.7" width="6.4" height="6.4" fill="#6639a5" fill-opacity="0.50"/><rect x="693.6" y="172.1" width="6.4" height="6.4" fill="#6639a5" fill-opacity="0.50"/><rect x="669.9" y="173.0" width="6.4" height="6.4" fill="#6639a5" fill-opacity="0.50"/><rect x="699.5" y="175.0" width="6.4" height="6.4" fill="#6639a5" fill-opacity="0.50"/><rect x="583.3" y="161.3" width="6.4" height="6.4" fill="#6639a5" fill-opacity="0.60"/><rect x="766.8" y="114.8" width="6.4" height="6.4" fill="#8d8a8b" fill-opacity="0.50"/><rect x="781.8" y="106.8" width="6.4" height="6.4" fill="#8d8a8b" fill-opacity="0.50"/><rect x="746.8" y="238.8" width="6.4" height="6.4" fill="#8d8a8b" fill-opacity="0.50"/><rect x="781.8" y="206.8" width="6.4" height="6.4" fill="#8d8a8b" fill-opacity="0.50"/><polyline points="500.6,393.5 504.2,375.6 507.8,356.5 515.0,342.1 519.8,315.9 524.5,300.3 530.5,302.7 536.5,292.0 543.7,283.6 554.9,272.0 566.1,246.5 571.6,250.5 577.2,242.5 588.4,238.5 601.1,229.8 612.3,222.6 619.9,226.7 635.9,223.7 645.8,228.7 657.8,222.7 669.7,226.7 683.7,221.8 695.6,212.8 711.6,213.8 727.5,211.8 739.4,217.8 755.4,211.8 769.3,210.8 786.3,206.8" fill="none" stroke="#8d8a8b" stroke-width="5.5" stroke-opacity="0.33" stroke-linejoin="round"/><polyline points="498.2,399.5 499.4,363.7 500.6,327.8 501.8,309.9 504.8,292.0 507.8,280.0 518.2,251.3 527.8,236.9 536.6,221.3 546.9,228.2 555.7,235.3 564.5,236.1 572.4,233.4 578.8,237.7 590.0,226.6 599.5,225.8 612.3,221.0 623.4,221.0 626.6,222.6 636.9,244.7 649.8,236.7 665.7,219.8 677.7,207.8 687.6,217.8 699.6,232.7 717.5,238.7 735.5,220.8 755.4,217.8 769.3,219.8 786.3,230.7" fill="none" stroke="#3a80b9" stroke-width="8.0" stroke-opacity="0.33" stroke-linejoin="round"/><polyline points="498.2,435.4 501.8,393.5 507.8,363.7 513.8,342.1 517.4,315.9 522.1,292.0 526.9,280.0 527.8,281.6 535.8,269.6 546.9,267.2 558.1,264.0 566.1,262.4 575.6,249.7 591.6,244.9 599.5,240.1 600.0,236.7 619.9,234.7 637.8,247.6 655.8,233.7 675.7,225.7 691.6,233.7 711.6,243.7 727.5,233.7 739.4,241.7 751.4,245.7 765.3,242.7 779.3,247.6 786.3,244.7" fill="none" stroke="#aad6e7" stroke-width="8.0" stroke-opacity="0.33" stroke-linejoin="round"/><polyline points="499.4,381.6 503.0,351.7 506.6,321.8 511.4,306.3 517.4,292.0 523.3,280.0 525.4,276.8 543.7,274.4 550.1,256.1 554.9,236.9 559.7,229.8 569.2,229.0 594.7,228.2 600.0,225.7 612.0,219.8 629.9,218.8 653.8,217.8 669.7,206.8 679.7,203.8 709.6,201.8 719.5,193.9 735.5,182.9 749.4,181.5 759.4,184.9 771.3,191.9 786.3,194.3" fill="none" stroke="#6639a5" stroke-width="5.5" stroke-opacity="0.33" stroke-linejoin="round"/><polyline points="194.3,489.5 220.9,489.2 251.7,488.6 313.5,486.1 375.2,483.7 406.1,482.1 437.0,478.7 455.5,476.3 472.0,474.2 487.5,471.2 490.5,468.8 492.9,459.3 495.9,435.4 497.6,411.5 500.6,393.5 504.2,375.6 507.8,356.5 515.0,342.1 519.8,315.9 524.5,300.3 530.5,302.7 536.5,292.0 543.7,283.6 554.9,272.0 566.1,246.5 571.6,250.5 577.2,242.5 588.4,238.5 601.1,229.8 612.3,222.6 619.9,226.7 635.9,223.7 645.8,228.7 657.8,222.7 669.7,226.7 683.7,221.8 695.6,212.8 711.6,213.8 727.5,211.8 739.4,217.8 755.4,211.8 769.3,210.8 786.3,206.8" fill="none" stroke="#8d8a8b" stroke-width="3.1" stroke-linejoin="round"/><polyline points="194.3,491.4 220.9,491.1 251.7,490.5 313.5,487.7 375.2,484.9 406.1,483.4 437.0,479.7 455.5,477.2 472.0,476.0 487.5,473.0 491.1,471.2 494.1,461.7 497.1,435.4 498.2,399.5 499.4,363.7 500.6,327.8 501.8,309.9 504.8,292.0 507.8,280.0 518.2,251.3 527.8,236.9 536.6,221.3 546.9,228.2 555.7,235.3 564.5,236.1 572.4,233.4 578.8,237.7 590.0,226.6 599.5,225.8 612.3,221.0 623.4,221.0 626.6,222.6 636.9,244.7 649.8,236.7 665.7,219.8 677.7,207.8 687.6,217.8 699.6,232.7 717.5,238.7 735.5,220.8 755.4,217.8 769.3,219.8 786.3,230.7" fill="none" stroke="#3a80b9" stroke-width="3.1" stroke-linejoin="round"/><polyline points="194.3,526.0 251.7,526.3 313.5,525.3 375.2,523.5 406.1,522.6 443.2,523.5 461.7,522.0 477.9,521.7 488.1,521.2 490.8,519.0 492.3,507.1 494.7,483.2 498.2,435.4 501.8,393.5 507.8,363.7 513.8,342.1 517.4,315.9 522.1,292.0 526.9,280.0 527.8,281.6 535.8,269.6 546.9,267.2 558.1,264.0 566.1,262.4 575.6,249.7 591.6,244.9 599.5,240.1 600.0,236.7 619.9,234.7 637.8,247.6 655.8,233.7 675.7,225.7 691.6,233.7 711.6,243.7 727.5,233.7 739.4,241.7 751.4,245.7 765.3,242.7 779.3,247.6 786.3,244.7" fill="none" stroke="#aad6e7" stroke-width="3.1" stroke-linejoin="round"/><polyline points="194.3,446.9 220.9,446.3 251.7,446.9 282.6,447.5 301.1,446.3 344.4,446.6 399.9,446.9 443.2,445.7 461.7,446.6 477.9,445.5 485.1,446.7 489.3,449.1 494.1,444.9 495.9,435.4 497.1,411.5 499.4,381.6 503.0,351.7 506.6,321.8 511.4,306.3 517.4,292.0 523.3,280.0 525.4,276.8 543.7,274.4 550.1,256.1 554.9,236.9 559.7,229.8 569.2,229.0 594.7,228.2 600.0,225.7 612.0,219.8 629.9,218.8 653.8,217.8 669.7,206.8 679.7,203.8 709.6,201.8 719.5,193.9 735.5,182.9 749.4,181.5 759.4,184.9 771.3,191.9 786.3,194.3" fill="none" stroke="#6639a5" stroke-width="3.1" stroke-linejoin="round"/>
</g>
<line x1="490" x2="490" y1="551.8" y2="77.7" stroke="#000" stroke-width="3.35" stroke-dasharray="12.39 5.355"/>
<path d="M194.7 76.4V551.2H785.4" fill="none" stroke="#000" stroke-width="3.1" stroke-linecap="square"/>
<rect x="493.7" y="77.7" width="59.3" height="475.0" fill="#808080" fill-opacity="0.36"/>
<line x1="187.2" x2="193.7" y1="147.2" y2="147.2" stroke="#000" stroke-width="3.1"/>
<text x="178.6" y="155.7" font-size="22.2" text-anchor="end">0</text>
<line x1="187.2" x2="193.7" y1="249.2" y2="249.2" stroke="#000" stroke-width="3.1"/>
<text x="178.6" y="257.8" font-size="22.2" text-anchor="end">−5</text>
<line x1="187.2" x2="193.7" y1="351.3" y2="351.3" stroke="#000" stroke-width="3.1"/>
<text x="178.6" y="359.8" font-size="22.2" text-anchor="end">−10</text>
<line x1="187.2" x2="193.7" y1="453.3" y2="453.3" stroke="#000" stroke-width="3.1"/>
<text x="178.6" y="461.8" font-size="22.2" text-anchor="end">−15</text>
<line x1="253.7" x2="253.7" y1="552.2" y2="559.5" stroke="#000" stroke-width="1.9"/>
<line x1="371.9" x2="371.9" y1="552.2" y2="559.5" stroke="#000" stroke-width="1.9"/>
<line x1="490.0" x2="490.0" y1="552.2" y2="559.5" stroke="#000" stroke-width="1.9"/>
<line x1="608.1" x2="608.1" y1="552.2" y2="559.5" stroke="#000" stroke-width="1.9"/>
<line x1="726.3" x2="726.3" y1="552.2" y2="559.5" stroke="#000" stroke-width="1.9"/>
<text transform="translate(110.9 306.3) rotate(-90) scale(0.973 1)" font-size="33.4" text-anchor="middle">Lick Port (mm)</text>
</g>
<g id="panelB">
<clipPath id="clipB"><rect x="194.7" y="596.5" width="592.3" height="475.9"/></clipPath>
<g clip-path="url(#clipB)">
<polyline points="474.9,912.5 479.8,905.6 484.8,896.6 487.8,889.6 490.8,884.0 493.8,875.7 499.8,859.8 505.7,842.8 511.7,829.9 517.7,818.9 522.7,812.0 529.6,809.5 535.6,804.0 539.6,799.0 551.4,785.7 563.3,775.7 575.3,765.7 591.2,760.6 607.2,758.6 631.1,759.0 643.0,761.8 659.0,760.6 678.9,755.0 698.8,751.0 718.7,751.0 738.6,751.8 758.6,747.8 786.5,748.6" fill="none" stroke="#8d8a8b" stroke-width="6.5" stroke-opacity="0.4" stroke-linejoin="round"/><polyline points="194.7,922.7 300.0,922.9 400.0,924.5 430.0,923.7 440.0,922.5 450.0,923.0 459.9,923.0 464.9,921.5 469.9,918.0 474.9,912.5 479.8,905.6 484.8,896.6 487.8,889.6 490.8,884.0 493.8,875.7 499.8,859.8 505.7,842.8 511.7,829.9 517.7,818.9 522.7,812.0 529.6,809.5 535.6,804.0 539.6,799.0 551.4,785.7 563.3,775.7 575.3,765.7 591.2,760.6 607.2,758.6 631.1,759.0 643.0,761.8 659.0,760.6 678.9,755.0 698.8,751.0 718.7,751.0 738.6,751.8 758.6,747.8 786.5,748.6" fill="none" stroke="#8d8a8b" stroke-width="3.1" stroke-linejoin="round"/><polyline points="474.9,912.5 479.8,905.6 484.8,896.6 487.8,889.6 490.8,879.7 493.8,869.7 497.8,855.8 501.8,841.8 505.7,829.9 509.7,819.9 513.7,813.9 515.7,814.0 521.7,812.9 526.7,814.4 532.6,817.9 539.6,819.4 551.4,821.5 567.3,825.5 591.2,822.7 611.2,819.5 639.0,828.7 659.0,821.5 678.9,816.7 702.8,829.5 718.7,827.5 738.6,820.7 758.6,821.5 774.5,826.7 786.5,825.9" fill="none" stroke="#3a80b9" stroke-width="6.5" stroke-opacity="0.4" stroke-linejoin="round"/><polyline points="194.7,924.2 300.0,924.4 400.0,926.0 430.0,925.2 440.0,924.0 450.0,923.0 459.9,923.0 464.9,921.5 469.9,918.0 474.9,912.5 479.8,905.6 484.8,896.6 487.8,889.6 490.8,879.7 493.8,869.7 497.8,855.8 501.8,841.8 505.7,829.9 509.7,819.9 513.7,813.9 515.7,814.0 521.7,812.9 526.7,814.4 532.6,817.9 539.6,819.4 551.4,821.5 567.3,825.5 591.2,822.7 611.2,819.5 639.0,828.7 659.0,821.5 678.9,816.7 702.8,829.5 718.7,827.5 738.6,820.7 758.6,821.5 774.5,826.7 786.5,825.9" fill="none" stroke="#3a80b9" stroke-width="3.1" stroke-linejoin="round"/><polyline points="474.9,912.5 479.8,905.6 484.8,896.6 487.8,889.6 490.8,878.7 493.8,868.0 497.8,853.8 501.8,839.8 505.7,827.9 509.7,816.9 515.7,804.0 519.5,797.6 531.5,787.6 543.4,783.7 555.4,777.7 567.3,767.7 579.3,760.6 607.2,756.6 631.1,759.0 639.0,755.0 659.0,753.8 678.9,756.6 694.8,755.8 718.7,761.8 738.6,763.7 758.6,765.7 778.5,771.7 786.5,768.5" fill="none" stroke="#aad6e7" stroke-width="6.5" stroke-opacity="0.4" stroke-linejoin="round"/><polyline points="194.7,924.2 300.0,924.4 400.0,926.0 430.0,925.2 440.0,924.0 450.0,923.0 459.9,923.0 464.9,921.5 469.9,918.0 474.9,912.5 479.8,905.6 484.8,896.6 487.8,889.6 490.8,878.7 493.8,868.0 497.8,853.8 501.8,839.8 505.7,827.9 509.7,816.9 515.7,804.0 519.5,797.6 531.5,787.6 543.4,783.7 555.4,777.7 567.3,767.7 579.3,760.6 607.2,756.6 631.1,759.0 639.0,755.0 659.0,753.8 678.9,756.6 694.8,755.8 718.7,761.8 738.6,763.7 758.6,765.7 778.5,771.7 786.5,768.5" fill="none" stroke="#aad6e7" stroke-width="3.1" stroke-linejoin="round"/><polyline points="194.7,929.9 787.0,929.9" fill="none" stroke="#6639a5" stroke-width="3.1" stroke-linejoin="round"/>
</g>
<line x1="490" x2="490" y1="1073.0" y2="596.7" stroke="#000" stroke-width="3.35" stroke-dasharray="12.39 5.355"/>
<path d="M194.7 598.0V1072.4H785.4" fill="none" stroke="#000" stroke-width="3.1" stroke-linecap="square"/>
<rect x="493.7" y="596.7" width="59.3" height="477.2" fill="#808080" fill-opacity="0.36"/>
<line x1="186.4" x2="193.7" y1="632.6" y2="632.6" stroke="#000" stroke-width="1.8"/>
<text x="178.6" y="641.1" font-size="22.2" text-anchor="end">0</text>
<line x1="186.4" x2="193.7" y1="720.5" y2="720.5" stroke="#000" stroke-width="1.8"/>
<text x="178.6" y="729.0" font-size="22.2" text-anchor="end">−5</text>
<line x1="186.4" x2="193.7" y1="808.4" y2="808.4" stroke="#000" stroke-width="1.8"/>
<text x="178.6" y="816.9" font-size="22.2" text-anchor="end">−10</text>
<line x1="186.4" x2="193.7" y1="896.3" y2="896.3" stroke="#000" stroke-width="1.8"/>
<text x="178.6" y="904.8" font-size="22.2" text-anchor="end">−15</text>
<line x1="186.4" x2="193.7" y1="984.2" y2="984.2" stroke="#000" stroke-width="1.8"/>
<text x="178.6" y="992.7" font-size="22.2" text-anchor="end">−20</text>
<line x1="186.4" x2="193.7" y1="1072.1" y2="1072.1" stroke="#000" stroke-width="1.8"/>
<text x="178.6" y="1080.6" font-size="22.2" text-anchor="end">−25</text>
<line x1="253.7" x2="253.7" y1="1073.4" y2="1080.7" stroke="#000" stroke-width="1.9"/>
<line x1="371.9" x2="371.9" y1="1073.4" y2="1080.7" stroke="#000" stroke-width="1.9"/>
<line x1="490.0" x2="490.0" y1="1073.4" y2="1080.7" stroke="#000" stroke-width="1.9"/>
<line x1="608.1" x2="608.1" y1="1073.4" y2="1080.7" stroke="#000" stroke-width="1.9"/>
<line x1="726.3" x2="726.3" y1="1073.4" y2="1080.7" stroke="#000" stroke-width="1.9"/>
<text transform="translate(107.8 794.5) rotate(-90) scale(1 1)" font-size="33.4" text-anchor="middle">Joystick (mm)</text>
</g>
<g id="panelC">
<clipPath id="clipC"><rect x="194.7" y="1117.5" width="592.3" height="475.8"/></clipPath>
<g clip-path="url(#clipC)">
<polyline points="194.3,1413.5 208.5,1411.6 220.9,1410.4 236.3,1404.2 247.1,1406.4 261.0,1406.4 271.8,1408.5 279.5,1403.3 291.9,1402.4 301.1,1405.5 308.9,1397.1 316.6,1398.7 325.8,1395.0 332.0,1401.7 341.3,1398.7 353.6,1400.2 366.0,1387.9 375.2,1389.4 384.5,1387.9 389.1,1400.2 395.3,1387.9 399.9,1400.2 412.3,1404.8 424.6,1414.1 440.1,1424.9 452.4,1448.1 461.7,1466.6 467.9,1465.0 477.1,1446.5 480.0,1445.4 489.6,1413.5 499.1,1372.1 508.7,1337.1 516.7,1317.9 524.6,1303.6 531.0,1302.6 539.0,1292.4 548.5,1287.6 556.5,1276.5 564.5,1265.3 572.4,1262.2 582.0,1254.2 590.0,1247.8 597.9,1248.4 605.9,1246.2 613.9,1248.4 623.4,1247.8 636.2,1241.4 645.7,1247.8 655.3,1259.0 664.9,1247.2 674.4,1246.2 684.0,1250.4 692.0,1244.0 696.7,1244.0 703.1,1249.4 715.9,1246.2 725.4,1243.0 735.0,1247.8 744.5,1244.6 757.3,1244.0 766.9,1249.4 773.2,1244.0 779.6,1246.2 786.0,1246.2" fill="none" stroke="#8d8a8b" stroke-width="9.5" stroke-opacity="0.28" stroke-linejoin="round"/><polyline points="194.3,1413.5 208.5,1411.6 220.9,1410.4 236.3,1404.2 247.1,1406.4 261.0,1406.4 271.8,1408.5 279.5,1403.3 291.9,1402.4 301.1,1405.5 308.9,1397.1 316.6,1398.7 325.8,1395.0 332.0,1401.7 341.3,1398.7 353.6,1400.2 366.0,1387.9 375.2,1389.4 384.5,1387.9 389.1,1400.2 395.3,1387.9 399.9,1400.2 412.3,1404.8 424.6,1414.1 440.1,1424.9 452.4,1448.1 461.7,1466.6 467.9,1465.0 477.1,1446.5 480.0,1445.4 489.6,1413.5 499.1,1372.1 508.7,1337.1 516.7,1317.9 524.6,1303.6 531.0,1302.6 539.0,1292.4 548.5,1287.6 556.5,1276.5 564.5,1265.3 572.4,1262.2 582.0,1254.2 590.0,1247.8 597.9,1248.4 605.9,1246.2 613.9,1248.4 623.4,1247.8 636.2,1241.4 645.7,1247.8 655.3,1259.0 664.9,1247.2 674.4,1246.2 684.0,1250.4 692.0,1244.0 696.7,1244.0 703.1,1249.4 715.9,1246.2 725.4,1243.0 735.0,1247.8 744.5,1244.6 757.3,1244.0 766.9,1249.4 773.2,1244.0 779.6,1246.2 786.0,1246.2" fill="none" stroke="#8d8a8b" stroke-width="3.1" stroke-linejoin="round"/><polyline points="194.3,1420.9 208.5,1419.7 217.8,1421.8 230.1,1421.8 240.9,1413.5 251.7,1417.2 259.5,1415.6 270.3,1417.2 282.6,1417.2 295.0,1414.1 301.1,1410.4 308.9,1412.6 318.1,1408.5 325.8,1411.6 335.1,1406.4 344.4,1405.5 350.5,1401.7 359.8,1403.3 367.5,1404.8 378.3,1400.2 390.7,1397.1 401.5,1397.1 412.3,1390.9 420.0,1395.6 433.9,1415.6 446.3,1432.6 455.5,1457.3 461.7,1469.7 467.9,1468.1 475.6,1452.7 480.0,1442.2 489.6,1410.4 499.1,1372.1 508.7,1340.2 515.1,1327.5 523.0,1323.7 534.2,1328.1 550.1,1330.7 572.4,1331.3 588.4,1329.1 601.1,1327.5 612.3,1323.7 620.2,1327.5 626.6,1327.5 636.2,1331.3 648.9,1329.1 658.5,1324.3 672.8,1321.8 684.0,1327.5 696.7,1333.9 706.3,1335.5 722.2,1332.3 731.8,1327.5 744.5,1325.9 760.5,1326.9 773.2,1329.1 786.0,1330.0" fill="none" stroke="#3a80b9" stroke-width="9.5" stroke-opacity="0.28" stroke-linejoin="round"/><polyline points="194.3,1420.9 208.5,1419.7 217.8,1421.8 230.1,1421.8 240.9,1413.5 251.7,1417.2 259.5,1415.6 270.3,1417.2 282.6,1417.2 295.0,1414.1 301.1,1410.4 308.9,1412.6 318.1,1408.5 325.8,1411.6 335.1,1406.4 344.4,1405.5 350.5,1401.7 359.8,1403.3 367.5,1404.8 378.3,1400.2 390.7,1397.1 401.5,1397.1 412.3,1390.9 420.0,1395.6 433.9,1415.6 446.3,1432.6 455.5,1457.3 461.7,1469.7 467.9,1468.1 475.6,1452.7 480.0,1442.2 489.6,1410.4 499.1,1372.1 508.7,1340.2 515.1,1327.5 523.0,1323.7 534.2,1328.1 550.1,1330.7 572.4,1331.3 588.4,1329.1 601.1,1327.5 612.3,1323.7 620.2,1327.5 626.6,1327.5 636.2,1331.3 648.9,1329.1 658.5,1324.3 672.8,1321.8 684.0,1327.5 696.7,1333.9 706.3,1335.5 722.2,1332.3 731.8,1327.5 744.5,1325.9 760.5,1326.9 773.2,1329.1 786.0,1330.0" fill="none" stroke="#3a80b9" stroke-width="3.1" stroke-linejoin="round"/><polyline points="194.3,1420.3 220.9,1420.9 236.3,1417.2 251.7,1420.3 267.2,1419.7 282.6,1417.2 298.1,1415.6 313.5,1416.6 328.9,1411.0 344.4,1409.5 362.9,1407.9 375.2,1403.3 390.7,1401.7 406.1,1403.3 418.5,1411.0 433.9,1426.4 446.3,1448.1 458.6,1468.1 467.9,1466.6 475.6,1449.6 480.0,1435.9 489.6,1404.0 499.1,1365.7 508.7,1333.9 516.7,1311.6 526.2,1298.8 537.4,1294.0 553.3,1287.6 566.1,1278.1 575.6,1268.5 585.2,1266.3 597.9,1265.3 607.5,1263.1 620.2,1261.2 629.8,1259.0 637.8,1255.8 648.9,1258.0 661.7,1259.0 677.6,1261.5 687.2,1261.2 696.7,1258.3 706.3,1262.2 719.0,1266.3 725.4,1265.3 738.2,1267.6 750.9,1269.5 760.5,1267.6 770.0,1270.8 779.6,1270.1 786.0,1268.5" fill="none" stroke="#aad6e7" stroke-width="9.5" stroke-opacity="0.28" stroke-linejoin="round"/><polyline points="194.3,1420.3 220.9,1420.9 236.3,1417.2 251.7,1420.3 267.2,1419.7 282.6,1417.2 298.1,1415.6 313.5,1416.6 328.9,1411.0 344.4,1409.5 362.9,1407.9 375.2,1403.3 390.7,1401.7 406.1,1403.3 418.5,1411.0 433.9,1426.4 446.3,1448.1 458.6,1468.1 467.9,1466.6 475.6,1449.6 480.0,1435.9 489.6,1404.0 499.1,1365.7 508.7,1333.9 516.7,1311.6 526.2,1298.8 537.4,1294.0 553.3,1287.6 566.1,1278.1 575.6,1268.5 585.2,1266.3 597.9,1265.3 607.5,1263.1 620.2,1261.2 629.8,1259.0 637.8,1255.8 648.9,1258.0 661.7,1259.0 677.6,1261.5 687.2,1261.2 696.7,1258.3 706.3,1262.2 719.0,1266.3 725.4,1265.3 738.2,1267.6 750.9,1269.5 760.5,1267.6 770.0,1270.8 779.6,1270.1 786.0,1268.5" fill="none" stroke="#aad6e7" stroke-width="3.1" stroke-linejoin="round"/><polyline points="194.3,1503.6 202.3,1502.7 211.6,1504.6 220.9,1502.4 230.1,1504.9 239.4,1502.7 248.7,1504.6 257.9,1502.7 267.2,1504.6 279.5,1503.0 288.8,1504.9 301.1,1502.7 313.5,1504.6 325.8,1502.7 338.2,1504.6 350.5,1503.0 362.9,1504.9 375.2,1502.7 387.6,1504.6 399.9,1503.0 412.3,1504.6 424.6,1502.7 437.0,1504.9 449.3,1503.0 461.7,1504.6 474.0,1503.3 483.3,1504.2 495.9,1505.3 507.1,1502.2 518.2,1502.8 524.6,1505.3 537.4,1502.8 548.5,1501.2 558.1,1503.4 566.1,1502.2 575.6,1501.2 583.6,1508.5 591.6,1509.8 601.1,1507.6 607.5,1505.3 613.9,1505.3 625.0,1496.4 633.0,1498.0 642.5,1499.6 650.5,1504.4 655.3,1502.8 660.1,1505.3 671.2,1501.2 679.2,1501.2 687.2,1502.8 696.7,1499.6 706.3,1502.2 715.9,1499.6 731.8,1498.0 741.4,1501.2 749.3,1502.2 760.5,1496.4 766.9,1499.0 773.2,1498.0 779.6,1499.6 786.0,1498.0" fill="none" stroke="#6639a5" stroke-width="15.0" stroke-opacity="0.28" stroke-linejoin="round"/><polyline points="194.3,1503.6 202.3,1502.7 211.6,1504.6 220.9,1502.4 230.1,1504.9 239.4,1502.7 248.7,1504.6 257.9,1502.7 267.2,1504.6 279.5,1503.0 288.8,1504.9 301.1,1502.7 313.5,1504.6 325.8,1502.7 338.2,1504.6 350.5,1503.0 362.9,1504.9 375.2,1502.7 387.6,1504.6 399.9,1503.0 412.3,1504.6 424.6,1502.7 437.0,1504.9 449.3,1503.0 461.7,1504.6 474.0,1503.3 483.3,1504.2 495.9,1505.3 507.1,1502.2 518.2,1502.8 524.6,1505.3 537.4,1502.8 548.5,1501.2 558.1,1503.4 566.1,1502.2 575.6,1501.2 583.6,1508.5 591.6,1509.8 601.1,1507.6 607.5,1505.3 613.9,1505.3 625.0,1496.4 633.0,1498.0 642.5,1499.6 650.5,1504.4 655.3,1502.8 660.1,1505.3 671.2,1501.2 679.2,1501.2 687.2,1502.8 696.7,1499.6 706.3,1502.2 715.9,1499.6 731.8,1498.0 741.4,1501.2 749.3,1502.2 760.5,1496.4 766.9,1499.0 773.2,1498.0 779.6,1499.6 786.0,1498.0" fill="none" stroke="#6639a5" stroke-width="3.1" stroke-linejoin="round"/>
</g>
<line x1="490" x2="490" y1="1593.9" y2="1116.7" stroke="#000" stroke-width="3.35" stroke-dasharray="12.39 5.355"/>
<path d="M194.7 1119.0V1593.3H785.4" fill="none" stroke="#000" stroke-width="3.1" stroke-linecap="square"/>
<rect x="493.7" y="1116.7" width="59.3" height="478.1" fill="#808080" fill-opacity="0.36"/>
<line x1="186.4" x2="193.7" y1="1153.6" y2="1153.6" stroke="#000" stroke-width="1.8"/>
<text x="178.6" y="1162.1" font-size="22.2" text-anchor="end">0</text>
<line x1="186.4" x2="193.7" y1="1241.5" y2="1241.5" stroke="#000" stroke-width="1.8"/>
<text x="178.6" y="1250.0" font-size="22.2" text-anchor="end">−5</text>
<line x1="186.4" x2="193.7" y1="1329.4" y2="1329.4" stroke="#000" stroke-width="1.8"/>
<text x="178.6" y="1337.9" font-size="22.2" text-anchor="end">−10</text>
<line x1="186.4" x2="193.7" y1="1417.3" y2="1417.3" stroke="#000" stroke-width="1.8"/>
<text x="178.6" y="1425.8" font-size="22.2" text-anchor="end">−15</text>
<line x1="186.4" x2="193.7" y1="1505.2" y2="1505.2" stroke="#000" stroke-width="1.8"/>
<text x="178.6" y="1513.7" font-size="22.2" text-anchor="end">−20</text>
<line x1="186.4" x2="193.7" y1="1593.1" y2="1593.1" stroke="#000" stroke-width="1.8"/>
<text x="178.6" y="1601.6" font-size="22.2" text-anchor="end">−25</text>
<line x1="253.7" x2="253.7" y1="1594.3" y2="1601.6" stroke="#000" stroke-width="1.9"/>
<line x1="371.9" x2="371.9" y1="1594.3" y2="1601.6" stroke="#000" stroke-width="1.9"/>
<line x1="490.0" x2="490.0" y1="1594.3" y2="1601.6" stroke="#000" stroke-width="1.9"/>
<line x1="608.1" x2="608.1" y1="1594.3" y2="1601.6" stroke="#000" stroke-width="1.9"/>
<line x1="726.3" x2="726.3" y1="1594.3" y2="1601.6" stroke="#000" stroke-width="1.9"/>
<text transform="translate(110.4 1341.8) rotate(-90) scale(1 1)" font-size="33.4" text-anchor="middle">Left Paw (mm)</text>
</g>
<g id="panelD">
<clipPath id="clipD"><rect x="194.7" y="1638.4" width="592.3" height="475.5"/></clipPath>
<g clip-path="url(#clipD)">
<polyline points="194.3,2054.5 208.5,2051.4 220.9,2052.0 230.1,2054.5 242.5,2049.9 254.8,2052.0 264.1,2050.8 273.4,2046.8 288.8,2044.6 313.5,2045.9 328.9,2039.1 341.3,2041.5 350.5,2039.1 356.7,2040.6 362.9,2036.6 372.2,2034.4 381.4,2029.8 390.7,2024.2 403.0,2021.2 412.3,2022.1 424.6,2010.7 433.9,2012.8 443.2,2015.9 458.6,2019.0 467.9,2016.8 474.0,2016.8 480.0,2015.5 492.7,2009.8 505.5,2005.0 511.9,2000.2 519.8,1987.5 526.2,1988.1 531.0,1998.6 537.4,1986.9 543.7,1990.0 553.3,1991.3 559.7,1986.9 566.1,1984.9 572.4,1988.1 578.8,1977.3 590.0,1970.0 601.1,1974.7 613.9,1981.1 623.4,1978.6 629.8,1980.5 639.4,1973.1 648.9,1971.6 656.9,1977.3 661.7,1977.3 668.0,1971.6 672.8,1975.4 684.0,1970.9 690.4,1972.2 696.7,1970.9 706.3,1976.3 715.9,1977.3 725.4,1974.1 738.2,1974.7 744.5,1973.1 750.9,1974.1 757.3,1971.6 762.1,1973.1 773.2,1968.4 786.0,1972.2" fill="none" stroke="#8d8a8b" stroke-width="9.5" stroke-opacity="0.28" stroke-linejoin="round"/><polyline points="194.3,2054.5 208.5,2051.4 220.9,2052.0 230.1,2054.5 242.5,2049.9 254.8,2052.0 264.1,2050.8 273.4,2046.8 288.8,2044.6 313.5,2045.9 328.9,2039.1 341.3,2041.5 350.5,2039.1 356.7,2040.6 362.9,2036.6 372.2,2034.4 381.4,2029.8 390.7,2024.2 403.0,2021.2 412.3,2022.1 424.6,2010.7 433.9,2012.8 443.2,2015.9 458.6,2019.0 467.9,2016.8 474.0,2016.8 480.0,2015.5 492.7,2009.8 505.5,2005.0 511.9,2000.2 519.8,1987.5 526.2,1988.1 531.0,1998.6 537.4,1986.9 543.7,1990.0 553.3,1991.3 559.7,1986.9 566.1,1984.9 572.4,1988.1 578.8,1977.3 590.0,1970.0 601.1,1974.7 613.9,1981.1 623.4,1978.6 629.8,1980.5 639.4,1973.1 648.9,1971.6 656.9,1977.3 661.7,1977.3 668.0,1971.6 672.8,1975.4 684.0,1970.9 690.4,1972.2 696.7,1970.9 706.3,1976.3 715.9,1977.3 725.4,1974.1 738.2,1974.7 744.5,1973.1 750.9,1974.1 757.3,1971.6 762.1,1973.1 773.2,1968.4 786.0,1972.2" fill="none" stroke="#8d8a8b" stroke-width="3.1" stroke-linejoin="round"/><polyline points="194.3,1981.0 211.6,1978.9 219.3,1982.0 230.1,1980.4 239.4,1978.9 248.7,1982.0 261.0,1978.9 271.8,1976.7 278.0,1978.9 288.8,1976.7 307.3,1977.3 313.5,1975.8 325.8,1976.7 338.2,1977.3 359.8,1974.2 378.3,1976.7 393.8,1969.6 412.3,1966.5 421.6,1961.3 430.8,1958.8 443.2,1948.9 455.5,1946.4 467.9,1941.8 478.7,1940.9 480.0,1941.3 492.7,1941.3 505.5,1938.1 518.2,1935.9 531.0,1937.1 543.7,1935.9 556.5,1936.5 575.6,1933.9 588.4,1938.1 601.1,1939.7 613.9,1937.1 623.4,1935.9 633.0,1938.1 645.7,1934.9 655.3,1932.7 668.0,1933.9 677.6,1936.5 690.4,1934.9 706.3,1932.7 715.9,1928.5 725.4,1930.8 735.0,1929.5 744.5,1926.9 754.1,1929.5 766.9,1927.6 778.0,1923.7 786.0,1926.3" fill="none" stroke="#3a80b9" stroke-width="9.5" stroke-opacity="0.28" stroke-linejoin="round"/><polyline points="194.3,1981.0 211.6,1978.9 219.3,1982.0 230.1,1980.4 239.4,1978.9 248.7,1982.0 261.0,1978.9 271.8,1976.7 278.0,1978.9 288.8,1976.7 307.3,1977.3 313.5,1975.8 325.8,1976.7 338.2,1977.3 359.8,1974.2 378.3,1976.7 393.8,1969.6 412.3,1966.5 421.6,1961.3 430.8,1958.8 443.2,1948.9 455.5,1946.4 467.9,1941.8 478.7,1940.9 480.0,1941.3 492.7,1941.3 505.5,1938.1 518.2,1935.9 531.0,1937.1 543.7,1935.9 556.5,1936.5 575.6,1933.9 588.4,1938.1 601.1,1939.7 613.9,1937.1 623.4,1935.9 633.0,1938.1 645.7,1934.9 655.3,1932.7 668.0,1933.9 677.6,1936.5 690.4,1934.9 706.3,1932.7 715.9,1928.5 725.4,1930.8 735.0,1929.5 744.5,1926.9 754.1,1929.5 766.9,1927.6 778.0,1923.7 786.0,1926.3" fill="none" stroke="#3a80b9" stroke-width="3.1" stroke-linejoin="round"/><polyline points="194.3,1989.7 220.9,1990.3 236.3,1986.6 248.7,1989.7 276.4,1988.1 298.1,1985.0 307.3,1986.6 325.8,1983.5 338.2,1985.0 350.5,1982.0 362.9,1982.0 375.2,1979.8 387.6,1981.0 403.0,1977.3 412.3,1969.6 421.6,1965.0 433.9,1960.3 443.2,1955.7 455.5,1951.1 464.8,1946.4 478.7,1944.9 480.0,1945.4 492.7,1943.5 505.5,1941.3 521.4,1942.2 537.4,1939.7 550.1,1938.1 562.9,1935.9 572.4,1933.3 578.8,1925.3 588.4,1922.2 601.1,1920.6 607.5,1919.0 613.9,1920.6 623.4,1915.8 636.2,1908.4 648.9,1907.8 661.7,1906.2 677.6,1906.2 687.2,1903.0 696.7,1904.6 709.5,1904.6 719.0,1900.8 727.0,1899.8 735.0,1902.1 744.5,1899.8 757.3,1898.9 766.9,1901.4 786.0,1901.4" fill="none" stroke="#aad6e7" stroke-width="9.5" stroke-opacity="0.28" stroke-linejoin="round"/><polyline points="194.3,1989.7 220.9,1990.3 236.3,1986.6 248.7,1989.7 276.4,1988.1 298.1,1985.0 307.3,1986.6 325.8,1983.5 338.2,1985.0 350.5,1982.0 362.9,1982.0 375.2,1979.8 387.6,1981.0 403.0,1977.3 412.3,1969.6 421.6,1965.0 433.9,1960.3 443.2,1955.7 455.5,1951.1 464.8,1946.4 478.7,1944.9 480.0,1945.4 492.7,1943.5 505.5,1941.3 521.4,1942.2 537.4,1939.7 550.1,1938.1 562.9,1935.9 572.4,1933.3 578.8,1925.3 588.4,1922.2 601.1,1920.6 607.5,1919.0 613.9,1920.6 623.4,1915.8 636.2,1908.4 648.9,1907.8 661.7,1906.2 677.6,1906.2 687.2,1903.0 696.7,1904.6 709.5,1904.6 719.0,1900.8 727.0,1899.8 735.0,1902.1 744.5,1899.8 757.3,1898.9 766.9,1901.4 786.0,1901.4" fill="none" stroke="#aad6e7" stroke-width="3.1" stroke-linejoin="round"/><polyline points="194.3,2070.6 207.0,2071.5 211.6,2065.3 219.3,2071.5 227.0,2069.9 234.8,2073.0 240.9,2068.4 248.7,2076.1 256.4,2072.4 264.1,2073.0 271.8,2069.9 278.0,2074.6 288.8,2070.6 296.5,2072.4 301.1,2070.6 307.3,2077.7 313.5,2073.0 322.8,2072.4 332.0,2070.6 338.2,2073.0 349.0,2067.5 355.2,2071.5 359.8,2067.5 367.5,2072.4 375.2,2070.6 383.0,2073.0 389.1,2070.6 396.9,2076.7 406.1,2069.9 412.3,2069.3 420.0,2065.3 429.3,2068.4 437.0,2067.5 443.2,2069.9 452.4,2066.9 461.7,2063.8 472.5,2070.6 480.0,2070.4 489.6,2067.8 497.5,2068.8 503.9,2066.5 511.9,2071.0 518.2,2068.8 526.2,2066.5 532.6,2068.8 539.0,2064.6 546.9,2067.2 556.5,2064.0 562.9,2067.8 572.4,2066.5 582.0,2068.8 586.8,2065.6 593.1,2067.2 596.3,2064.6 602.7,2066.5 610.7,2062.4 620.2,2060.8 626.6,2059.2 631.4,2060.8 637.8,2056.0 645.7,2057.0 653.7,2059.2 661.7,2062.4 668.0,2060.2 674.4,2062.4 679.2,2064.6 684.0,2061.4 690.4,2068.8 699.9,2064.6 706.3,2064.0 714.3,2061.4 720.6,2068.8 735.0,2069.7 742.9,2064.0 750.9,2070.4 766.9,2070.4 774.8,2064.6 779.6,2065.6 786.0,2064.6" fill="none" stroke="#6639a5" stroke-width="15.0" stroke-opacity="0.28" stroke-linejoin="round"/><polyline points="194.3,2070.6 207.0,2071.5 211.6,2065.3 219.3,2071.5 227.0,2069.9 234.8,2073.0 240.9,2068.4 248.7,2076.1 256.4,2072.4 264.1,2073.0 271.8,2069.9 278.0,2074.6 288.8,2070.6 296.5,2072.4 301.1,2070.6 307.3,2077.7 313.5,2073.0 322.8,2072.4 332.0,2070.6 338.2,2073.0 349.0,2067.5 355.2,2071.5 359.8,2067.5 367.5,2072.4 375.2,2070.6 383.0,2073.0 389.1,2070.6 396.9,2076.7 406.1,2069.9 412.3,2069.3 420.0,2065.3 429.3,2068.4 437.0,2067.5 443.2,2069.9 452.4,2066.9 461.7,2063.8 472.5,2070.6 480.0,2070.4 489.6,2067.8 497.5,2068.8 503.9,2066.5 511.9,2071.0 518.2,2068.8 526.2,2066.5 532.6,2068.8 539.0,2064.6 546.9,2067.2 556.5,2064.0 562.9,2067.8 572.4,2066.5 582.0,2068.8 586.8,2065.6 593.1,2067.2 596.3,2064.6 602.7,2066.5 610.7,2062.4 620.2,2060.8 626.6,2059.2 631.4,2060.8 637.8,2056.0 645.7,2057.0 653.7,2059.2 661.7,2062.4 668.0,2060.2 674.4,2062.4 679.2,2064.6 684.0,2061.4 690.4,2068.8 699.9,2064.6 706.3,2064.0 714.3,2061.4 720.6,2068.8 735.0,2069.7 742.9,2064.0 750.9,2070.4 766.9,2070.4 774.8,2064.6 779.6,2065.6 786.0,2064.6" fill="none" stroke="#6639a5" stroke-width="3.1" stroke-linejoin="round"/>
</g>
<line x1="490" x2="490" y1="2114.5" y2="1642.6" stroke="#000" stroke-width="3.35" stroke-dasharray="12.39 5.355"/>
<path d="M194.7 1639.9V2113.9H785.4" fill="none" stroke="#000" stroke-width="3.1" stroke-linecap="square"/>
<rect x="493.7" y="1642.6" width="59.3" height="472.8" fill="#808080" fill-opacity="0.36"/>
<line x1="186.4" x2="193.7" y1="2079.3" y2="2079.3" stroke="#000" stroke-width="1.8"/>
<text x="178.6" y="2087.8" font-size="22.2" text-anchor="end">0</text>
<line x1="186.4" x2="193.7" y1="1991.4" y2="1991.4" stroke="#000" stroke-width="1.8"/>
<text x="178.6" y="1999.9" font-size="22.2" text-anchor="end">5</text>
<line x1="186.4" x2="193.7" y1="1903.5" y2="1903.5" stroke="#000" stroke-width="1.8"/>
<text x="178.6" y="1912.0" font-size="22.2" text-anchor="end">10</text>
<line x1="186.4" x2="193.7" y1="1815.6" y2="1815.6" stroke="#000" stroke-width="1.8"/>
<text x="178.6" y="1824.1" font-size="22.2" text-anchor="end">15</text>
<line x1="186.4" x2="193.7" y1="1727.7" y2="1727.7" stroke="#000" stroke-width="1.8"/>
<text x="178.6" y="1736.2" font-size="22.2" text-anchor="end">20</text>
<line x1="186.4" x2="193.7" y1="1639.8" y2="1639.8" stroke="#000" stroke-width="1.8"/>
<text x="178.6" y="1648.3" font-size="22.2" text-anchor="end">25</text>
<line x1="253.7" x2="253.7" y1="2114.9" y2="2122.2" stroke="#000" stroke-width="1.9"/>
<line x1="371.9" x2="371.9" y1="2114.9" y2="2122.2" stroke="#000" stroke-width="1.9"/>
<line x1="490.0" x2="490.0" y1="2114.9" y2="2122.2" stroke="#000" stroke-width="1.9"/>
<line x1="608.1" x2="608.1" y1="2114.9" y2="2122.2" stroke="#000" stroke-width="1.9"/>
<line x1="726.3" x2="726.3" y1="2114.9" y2="2122.2" stroke="#000" stroke-width="1.9"/>
<text transform="translate(107.8 1861.3) rotate(-90) scale(1 1)" font-size="33.4" text-anchor="middle">Right Paw (mm)</text>
</g>
<g id="panelE">
<clipPath id="clipE"><rect x="194.7" y="2160.3" width="592.3" height="475.3"/></clipPath>
<g>
<polygon points="265.0,2635.6 265.0,2615.9 275.5,2635.6 381.4,2635.6 392.2,2615.9 403.0,2635.6 412.3,2614.1 424.6,2614.1 433.9,2635.6 455.5,2635.6 466.3,2615.9 475.6,2635.6 486.8,2550.3 496.1,2591.2 502.7,2546.5 517.1,2461.6 520.6,2461.6 528.0,2518.2 539.8,2377.3 551.7,2507.0 558.9,2549.2 569.0,2461.6 582.2,2441.9 588.0,2498.2 602.5,2378.3 614.0,2418.8 623.9,2440.1 634.5,2483.6 649.4,2450.0 657.0,2420.0 666.4,2292.4 679.2,2485.4 688.5,2519.1 708.3,2420.6 713.3,2471.3 718.3,2504.9 725.3,2407.5 740.2,2292.4 749.4,2407.5 755.1,2485.4 759.3,2485.4 767.8,2547.2 782.7,2441.9 785.8,2506.0 786.3,2635.6" fill="#8d8a8b" fill-opacity="0.2" stroke="none"/><polygon points="265.0,2635.6 265.0,2615.9 275.5,2635.6 381.4,2635.6 392.2,2615.9 403.0,2635.6 412.3,2614.1 424.6,2614.1 433.9,2635.6 455.5,2635.6 466.3,2615.9 475.6,2635.6 486.8,2550.3 496.1,2591.2 502.7,2546.5 517.1,2461.6 520.6,2461.6 528.0,2518.2 539.8,2377.3 551.7,2507.0 558.9,2549.2 569.0,2461.6 582.2,2441.9 588.0,2498.2 602.5,2378.3 614.0,2418.8 623.9,2440.1 634.5,2483.6 649.4,2450.0 657.0,2420.0 666.4,2292.4 679.2,2485.4 688.5,2519.1 708.3,2420.6 713.3,2471.3 718.3,2504.9 725.3,2407.5 740.2,2292.4 749.4,2407.5 755.1,2485.4 759.3,2485.4 767.8,2547.2 782.7,2441.9 785.8,2506.0 786.3,2635.6" fill="none" stroke="#8d8a8b" stroke-width="6.8" stroke-linejoin="round"/><polygon points="494.5,2635.6 496.1,2600.2 501.5,2551.2 505.7,2613.4 515.3,2613.4 525.4,2424.5 530.8,2549.4 536.8,2531.5 549.3,2572.1 556.5,2527.9 567.8,2572.1 572.6,2510.0 579.2,2573.2 590.0,2424.5 596.3,2550.2 603.4,2466.0 606.9,2570.1 612.6,2488.7 618.3,2591.7 625.3,2612.6 629.6,2591.7 635.3,2529.4 642.3,2529.4 646.6,2506.7 657.2,2506.7 666.4,2403.6 671.4,2625.2 678.5,2488.7 683.4,2535.0 688.5,2535.0 694.2,2528.0 705.0,2573.2 715.0,2500.0 725.3,2403.6 733.0,2500.0 740.9,2547.4 748.7,2403.6 753.7,2597.0 766.4,2465.6 769.3,2465.6 779.2,2618.2 785.5,2591.8 786.3,2635.6" fill="#3a80b9" fill-opacity="0.2" stroke="none"/><polygon points="494.5,2635.6 496.1,2600.2 501.5,2551.2 505.7,2613.4 515.3,2613.4 525.4,2424.5 530.8,2549.4 536.8,2531.5 549.3,2572.1 556.5,2527.9 567.8,2572.1 572.6,2510.0 579.2,2573.2 590.0,2424.5 596.3,2550.2 603.4,2466.0 606.9,2570.1 612.6,2488.7 618.3,2591.7 625.3,2612.6 629.6,2591.7 635.3,2529.4 642.3,2529.4 646.6,2506.7 657.2,2506.7 666.4,2403.6 671.4,2625.2 678.5,2488.7 683.4,2535.0 688.5,2535.0 694.2,2528.0 705.0,2573.2 715.0,2500.0 725.3,2403.6 733.0,2500.0 740.9,2547.4 748.7,2403.6 753.7,2597.0 766.4,2465.6 769.3,2465.6 779.2,2618.2 785.5,2591.8 786.3,2635.6" fill="none" stroke="#3a80b9" stroke-width="6.8" stroke-linejoin="round"/><polygon points="493.7,2635.6 493.7,2588.9 496.7,2602.0 503.3,2572.2 508.7,2596.0 514.7,2548.8 520.0,2550.0 527.2,2464.6 532.6,2507.0 541.0,2507.0 546.9,2527.3 551.7,2527.3 557.7,2591.3 569.0,2529.1 576.8,2590.1 581.6,2484.9 587.6,2525.5 598.4,2464.6 606.9,2568.7 616.8,2487.2 623.9,2547.4 629.6,2529.7 636.0,2611.2 642.3,2529.7 648.0,2589.9 653.0,2399.4 659.3,2506.7 665.0,2519.1 670.7,2507.1 674.9,2549.2 680.0,2588.2 690.0,2529.8 700.0,2588.2 712.6,2463.2 722.0,2588.2 730.0,2529.8 738.0,2598.2 748.7,2508.5 759.3,2575.7 768.0,2529.8 776.0,2598.2 784.8,2508.5 786.3,2556.3 786.3,2635.6" fill="#aad6e7" fill-opacity="0.2" stroke="none"/><polygon points="493.7,2635.6 493.7,2588.9 496.7,2602.0 503.3,2572.2 508.7,2596.0 514.7,2548.8 520.0,2550.0 527.2,2464.6 532.6,2507.0 541.0,2507.0 546.9,2527.3 551.7,2527.3 557.7,2591.3 569.0,2529.1 576.8,2590.1 581.6,2484.9 587.6,2525.5 598.4,2464.6 606.9,2568.7 616.8,2487.2 623.9,2547.4 629.6,2529.7 636.0,2611.2 642.3,2529.7 648.0,2589.9 653.0,2399.4 659.3,2506.7 665.0,2519.1 670.7,2507.1 674.9,2549.2 680.0,2588.2 690.0,2529.8 700.0,2588.2 712.6,2463.2 722.0,2588.2 730.0,2529.8 738.0,2598.2 748.7,2508.5 759.3,2575.7 768.0,2529.8 776.0,2598.2 784.8,2508.5 786.3,2556.3 786.3,2635.6" fill="none" stroke="#aad6e7" stroke-width="6.8" stroke-linejoin="round"/><polygon points="589.2,2635.6 589.2,2609.1 594.2,2635.6 669.3,2635.6 684.8,2498.2 689.1,2499.6 694.1,2418.5 701.3,2604.1 705.5,2473.1 713.3,2553.1 717.5,2446.2 721.8,2499.2 723.9,2473.1 729.6,2580.0 733.1,2473.1 739.5,2631.4 742.3,2631.4 749.4,2555.2 753.7,2581.8 757.2,2579.0 762.2,2631.4 765.0,2631.4 773.5,2446.2 781.3,2604.1 785.6,2555.2 786.3,2635.6" fill="#6639a5" fill-opacity="0.2" stroke="none"/><polygon points="589.2,2635.6 589.2,2609.1 594.2,2635.6 669.3,2635.6 684.8,2498.2 689.1,2499.6 694.1,2418.5 701.3,2604.1 705.5,2473.1 713.3,2553.1 717.5,2446.2 721.8,2499.2 723.9,2473.1 729.6,2580.0 733.1,2473.1 739.5,2631.4 742.3,2631.4 749.4,2555.2 753.7,2581.8 757.2,2579.0 762.2,2631.4 765.0,2631.4 773.5,2446.2 781.3,2604.1 785.6,2555.2 786.3,2635.6" fill="none" stroke="#6639a5" stroke-width="6.8" stroke-linejoin="round"/>
</g>
<line x1="490" x2="490" y1="2636.2" y2="2162.6" stroke="#000" stroke-width="3.35" stroke-dasharray="12.39 5.355"/>
<path d="M194.7 2161.8V2635.6H785.4" fill="none" stroke="#000" stroke-width="3.1" stroke-linecap="square"/>
<rect x="493.7" y="2162.6" width="59.3" height="474.5" fill="#808080" fill-opacity="0.36"/>
<line x1="186.4" x2="193.7" y1="2635.6" y2="2635.6" stroke="#000" stroke-width="1.8"/>
<text x="178.6" y="2644.1" font-size="22.2" text-anchor="end">0.00</text>
<line x1="186.4" x2="193.7" y1="2578.5" y2="2578.5" stroke="#000" stroke-width="1.8"/>
<text x="178.6" y="2587.0" font-size="22.2" text-anchor="end">0.05</text>
<line x1="186.4" x2="193.7" y1="2521.5" y2="2521.5" stroke="#000" stroke-width="1.8"/>
<text x="178.6" y="2530.0" font-size="22.2" text-anchor="end">0.10</text>
<line x1="186.4" x2="193.7" y1="2464.4" y2="2464.4" stroke="#000" stroke-width="1.8"/>
<text x="178.6" y="2472.9" font-size="22.2" text-anchor="end">0.15</text>
<line x1="186.4" x2="193.7" y1="2407.4" y2="2407.4" stroke="#000" stroke-width="1.8"/>
<text x="178.6" y="2415.9" font-size="22.2" text-anchor="end">0.20</text>
<line x1="186.4" x2="193.7" y1="2350.3" y2="2350.3" stroke="#000" stroke-width="1.8"/>
<text x="178.6" y="2358.8" font-size="22.2" text-anchor="end">0.25</text>
<line x1="186.4" x2="193.7" y1="2293.3" y2="2293.3" stroke="#000" stroke-width="1.8"/>
<text x="178.6" y="2301.8" font-size="22.2" text-anchor="end">0.30</text>
<line x1="186.4" x2="193.7" y1="2236.2" y2="2236.2" stroke="#000" stroke-width="1.8"/>
<text x="178.6" y="2244.8" font-size="22.2" text-anchor="end">0.35</text>
<line x1="186.4" x2="193.7" y1="2179.2" y2="2179.2" stroke="#000" stroke-width="1.8"/>
<text x="178.6" y="2187.7" font-size="22.2" text-anchor="end">0.40</text>
<line x1="253.7" x2="253.7" y1="2636.6" y2="2643.9" stroke="#000" stroke-width="1.9"/>
<line x1="371.9" x2="371.9" y1="2636.6" y2="2643.9" stroke="#000" stroke-width="1.9"/>
<line x1="490.0" x2="490.0" y1="2636.6" y2="2643.9" stroke="#000" stroke-width="1.9"/>
<line x1="608.1" x2="608.1" y1="2636.6" y2="2643.9" stroke="#000" stroke-width="1.9"/>
<line x1="726.3" x2="726.3" y1="2636.6" y2="2643.9" stroke="#000" stroke-width="1.9"/>
<text transform="translate(111.8 2408.2) rotate(-90) scale(1 1)" font-size="33.4" text-anchor="middle">Licks/Pull</text>
</g>
<text transform="translate(46.9 54.8) scale(1 1)" font-size="71.3" text-anchor="end">A</text>
<text transform="translate(51.6 596.1) scale(1 1)" font-size="71.3" text-anchor="end">B</text>
<text transform="translate(50.6 1144.0) scale(1 1)" font-size="71.3" text-anchor="end">C</text>
<text transform="translate(50.6 1657.2) scale(1 1)" font-size="71.3" text-anchor="end">D</text>
<text transform="translate(50.0 2177.0) scale(0.84 1)" font-size="71.3" text-anchor="end">E</text>
<text x="253.7" y="2668.6" font-size="22.2" text-anchor="middle">−0.4</text>
<text x="371.9" y="2668.6" font-size="22.2" text-anchor="middle">−0.2</text>
<text x="490.0" y="2668.6" font-size="22.2" text-anchor="middle">0.0</text>
<text x="608.1" y="2668.6" font-size="22.2" text-anchor="middle">0.2</text>
<text x="726.3" y="2668.6" font-size="22.2" text-anchor="middle">0.4</text>
<text x="492.5" y="2706.8" font-size="33.4" text-anchor="middle">Time (ms)</text>
<text x="671.3" y="374.0" font-size="33.4" fill="#3a80b9">Adaptation</text>
<text x="668.4" y="410.6" font-size="33.4" fill="#aad6e7">Recovery</text>
<text x="669.7" y="447.3" font-size="33.4" fill="#8d8a8b">Control (Active)</text>
<text x="668.4" y="483.9" font-size="33.4" fill="#6639a5">Lick-port only (Passive)</text>
</svg>
</body></html>
